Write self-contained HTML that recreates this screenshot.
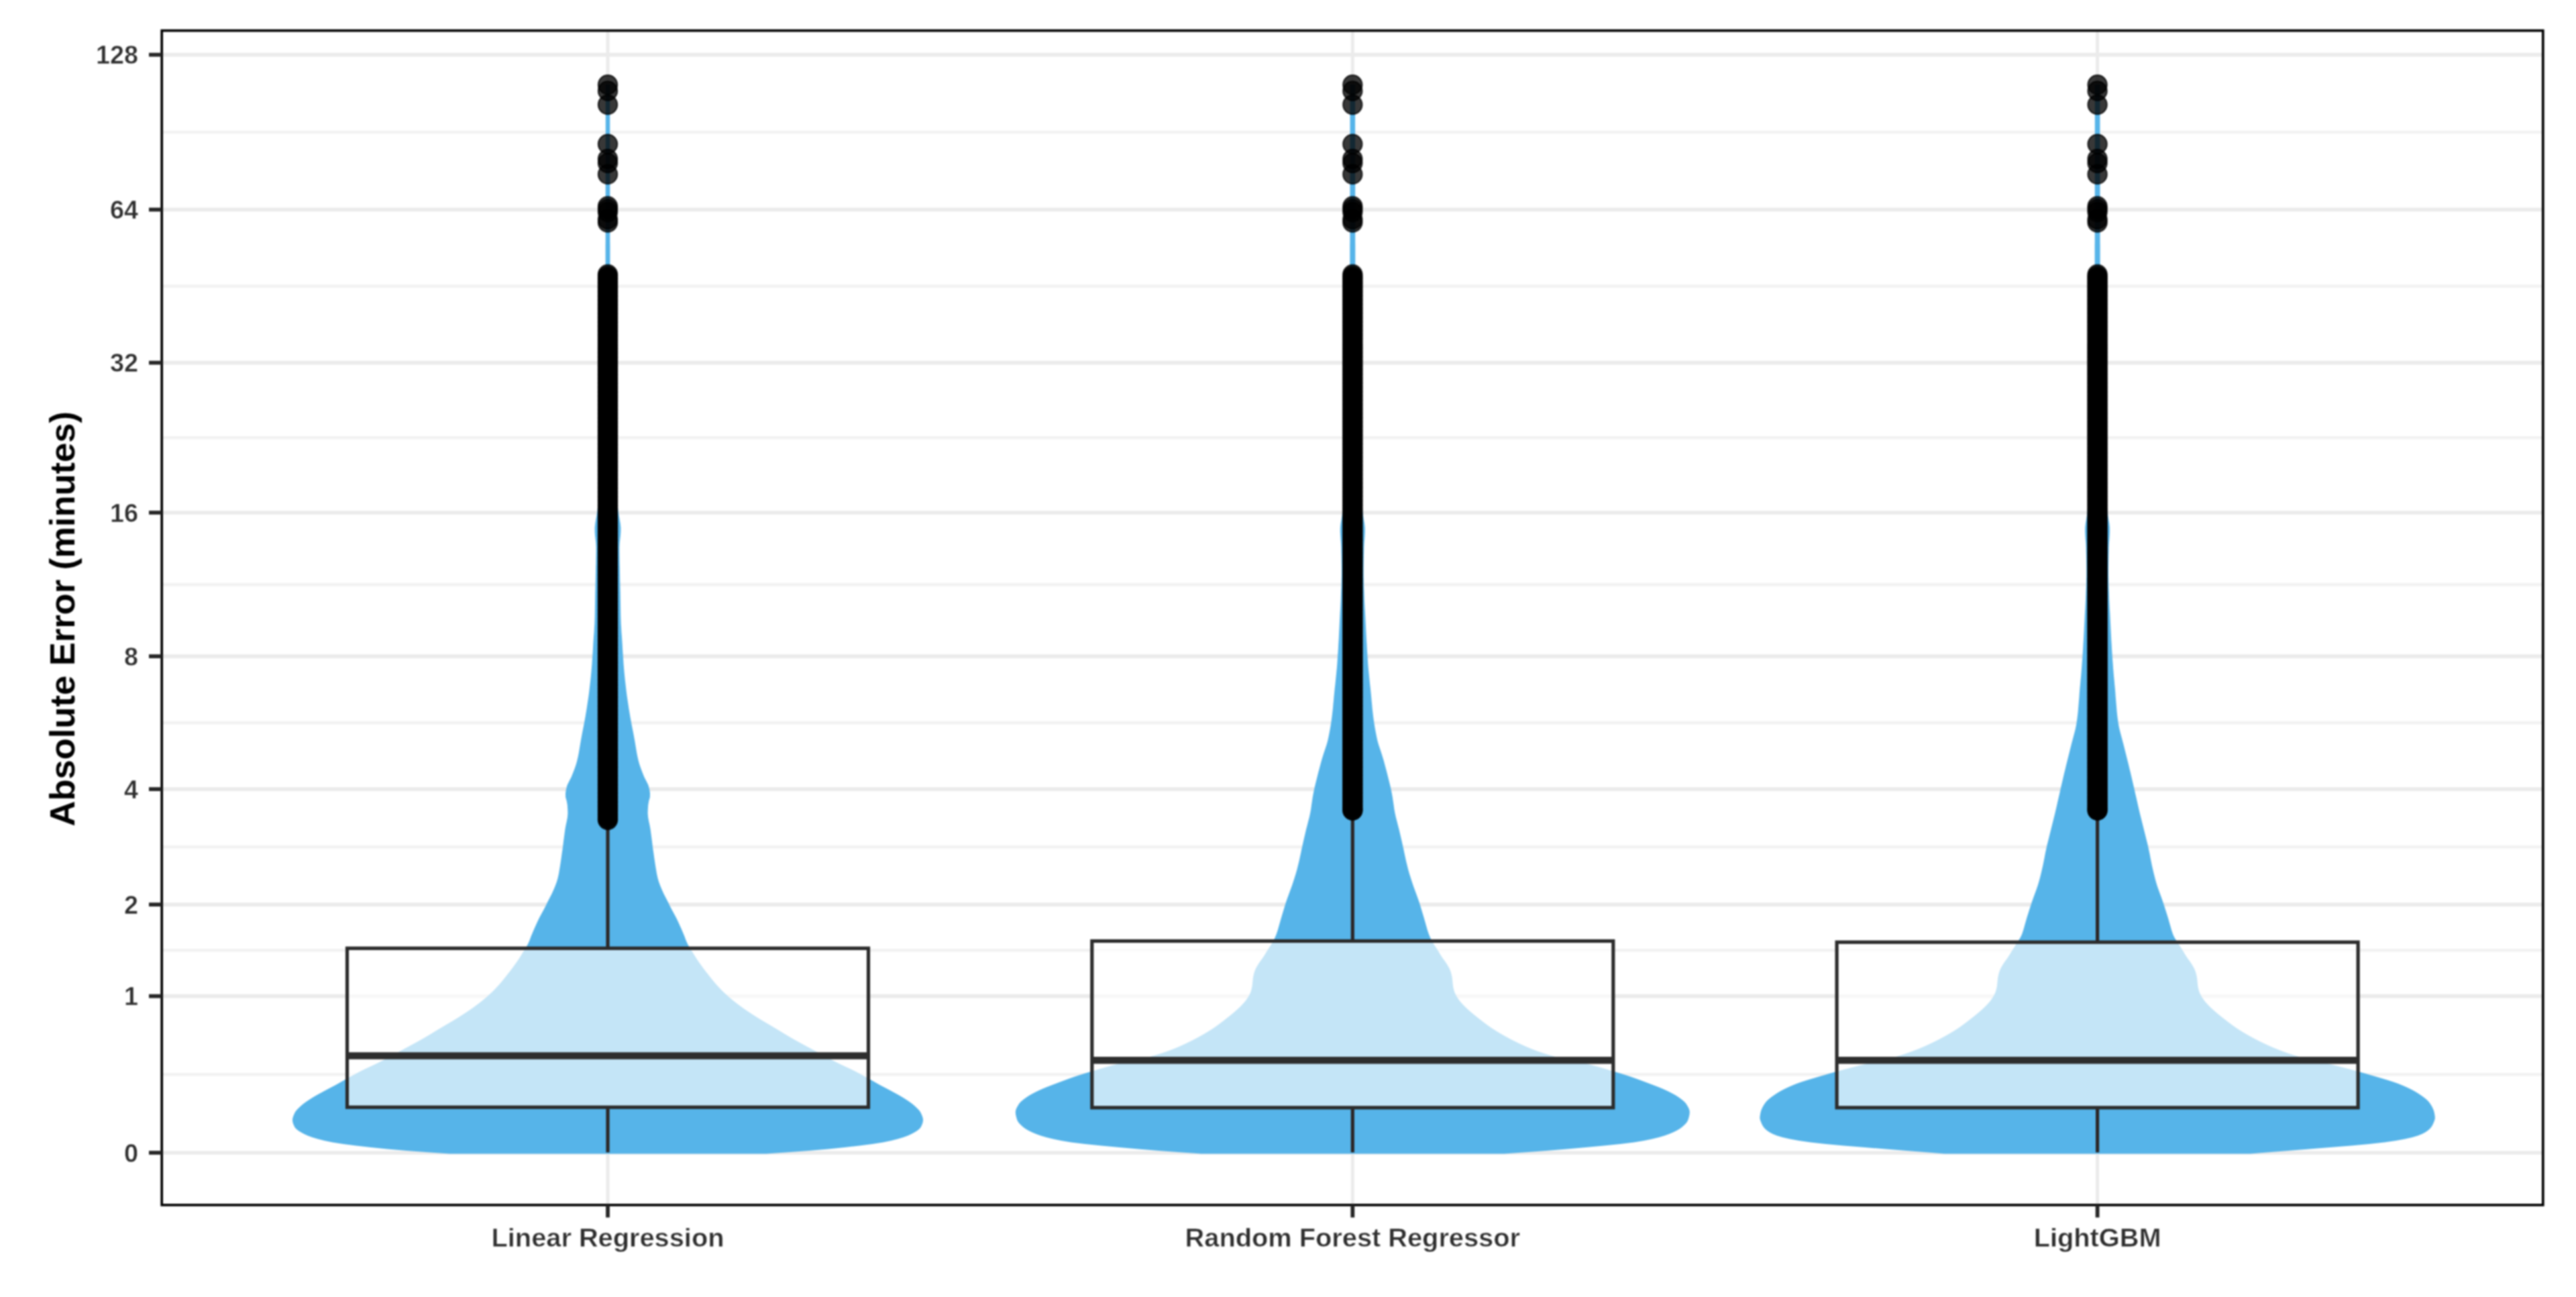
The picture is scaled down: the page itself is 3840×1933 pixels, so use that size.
<!DOCTYPE html>
<html lang="en"><head><meta charset="utf-8"><title>Absolute Error by model</title>
<style>html,body{margin:0;padding:0;background:#fff}body{width:3840px;height:1933px;overflow:hidden}svg{display:block;filter:blur(1.3px)}text{font-family:"Liberation Sans",sans-serif;font-weight:bold}.yt{font-size:39px;fill:#2e2e2e;text-anchor:end;stroke:#fff;stroke-width:.5px}.xt{font-size:39px;fill:#2e2e2e;text-anchor:middle;stroke:#fff;stroke-width:.5px}.ttl{font-size:52.5px;fill:#000;text-anchor:middle}</style></head><body>
<svg width="3840" height="1933" viewBox="0 0 3840 1933">
<rect x="0" y="0" width="3840" height="1933" fill="#fff"/>
<g stroke="#ebebeb" fill="none">
<line x1="241.2" x2="3790.8" y1="1601.3" y2="1601.3" stroke-width="4.6" stroke="#f2f2f2"/>
<line x1="241.2" x2="3790.8" y1="1416.3" y2="1416.3" stroke-width="4.6" stroke="#f2f2f2"/>
<line x1="241.2" x2="3790.8" y1="1262.1" y2="1262.1" stroke-width="4.6" stroke="#f2f2f2"/>
<line x1="241.2" x2="3790.8" y1="1077.1" y2="1077.1" stroke-width="4.6" stroke="#f2f2f2"/>
<line x1="241.2" x2="3790.8" y1="871.1" y2="871.1" stroke-width="4.6" stroke="#f2f2f2"/>
<line x1="241.2" x2="3790.8" y1="652.3" y2="652.3" stroke-width="4.6" stroke="#f2f2f2"/>
<line x1="241.2" x2="3790.8" y1="426.5" y2="426.5" stroke-width="4.6" stroke="#f2f2f2"/>
<line x1="241.2" x2="3790.8" y1="197.0" y2="197.0" stroke-width="4.6" stroke="#f2f2f2"/>
<line x1="241.2" x2="3790.8" y1="1718.0" y2="1718.0" stroke-width="5.6"/>
<line x1="241.2" x2="3790.8" y1="1484.6" y2="1484.6" stroke-width="5.6"/>
<line x1="241.2" x2="3790.8" y1="1348.1" y2="1348.1" stroke-width="5.6"/>
<line x1="241.2" x2="3790.8" y1="1176.1" y2="1176.1" stroke-width="5.6"/>
<line x1="241.2" x2="3790.8" y1="978.1" y2="978.1" stroke-width="5.6"/>
<line x1="241.2" x2="3790.8" y1="764.0" y2="764.0" stroke-width="5.6"/>
<line x1="241.2" x2="3790.8" y1="540.6" y2="540.6" stroke-width="5.6"/>
<line x1="241.2" x2="3790.8" y1="312.4" y2="312.4" stroke-width="5.6"/>
<line x1="241.2" x2="3790.8" y1="81.6" y2="81.6" stroke-width="5.6"/>
<line x1="906.0" x2="906.0" y1="45.6" y2="1795.9" stroke-width="5"/>
<line x1="2016.3" x2="2016.3" y1="45.6" y2="1795.9" stroke-width="5"/>
<line x1="3126.6" x2="3126.6" y1="45.6" y2="1795.9" stroke-width="5"/>
</g>
<g fill="#56b4e9" stroke="none">
<path d="M902.8 126.0 L902.8 132.0 L902.8 138.0 L902.8 144.0 L902.8 150.0 L902.8 156.0 L902.8 162.0 L902.8 168.0 L902.8 174.0 L902.8 180.0 L902.8 186.0 L902.8 192.0 L902.8 198.0 L902.8 204.0 L902.8 210.0 L902.8 216.0 L902.8 222.0 L902.8 228.0 L902.8 234.0 L902.8 240.0 L902.8 246.0 L902.8 252.0 L902.8 258.0 L902.7 264.0 L902.7 270.0 L902.7 276.0 L902.7 282.0 L902.7 288.0 L902.7 294.0 L902.7 300.0 L902.7 306.0 L902.7 312.0 L902.7 318.0 L902.7 324.0 L902.7 330.0 L902.7 336.0 L902.7 342.0 L902.7 348.0 L902.7 354.0 L902.7 360.0 L902.6 366.0 L902.6 372.0 L902.6 378.0 L902.6 384.0 L902.6 390.0 L902.6 396.0 L902.6 402.0 L902.6 408.0 L902.6 414.0 L902.6 420.0 L902.5 426.0 L902.5 432.0 L902.5 438.0 L902.5 444.0 L902.4 450.0 L902.4 456.0 L902.4 462.0 L902.3 468.0 L902.3 474.0 L902.3 480.0 L902.2 486.0 L902.2 492.0 L902.1 498.0 L902.1 504.0 L902.0 510.0 L902.0 516.0 L901.9 522.0 L901.9 528.0 L901.8 534.0 L901.8 540.0 L901.7 546.0 L901.6 552.0 L901.5 558.0 L901.5 564.0 L901.4 570.0 L901.3 576.0 L901.2 582.0 L901.2 588.0 L901.1 594.0 L901.0 600.0 L900.9 606.0 L900.8 612.0 L900.6 618.0 L900.5 624.0 L900.3 630.0 L900.1 636.0 L899.9 642.0 L899.7 648.0 L899.4 654.0 L899.1 660.0 L898.9 666.0 L898.6 672.0 L898.3 678.0 L897.9 684.0 L897.6 690.0 L897.2 696.0 L896.9 702.0 L896.4 708.0 L895.9 714.0 L895.3 720.0 L894.6 726.0 L893.9 732.0 L893.2 738.0 L892.5 744.0 L891.8 750.0 L891.0 756.0 L890.3 762.0 L889.4 768.0 L888.3 774.0 L887.3 780.0 L886.6 786.0 L886.6 792.0 L887.0 798.0 L887.7 804.0 L888.3 810.0 L888.6 816.0 L888.6 822.0 L888.5 828.0 L888.4 834.0 L888.3 840.0 L888.1 846.0 L888.0 852.0 L887.9 858.0 L887.8 864.0 L887.6 870.0 L887.5 876.0 L887.3 882.0 L887.2 888.0 L887.1 894.0 L887.0 900.0 L886.9 906.0 L886.8 912.0 L886.7 918.0 L886.5 924.0 L886.3 930.0 L885.9 936.0 L885.6 942.0 L885.1 948.0 L884.7 954.0 L884.3 960.0 L884.0 966.0 L883.6 972.0 L883.2 978.0 L882.8 984.0 L882.4 990.0 L881.9 996.0 L881.4 1002.0 L880.8 1008.0 L880.2 1014.0 L879.5 1020.0 L878.8 1026.0 L878.1 1032.0 L877.3 1038.0 L876.4 1044.0 L875.5 1050.0 L874.6 1056.0 L873.6 1062.0 L872.6 1068.0 L871.5 1074.0 L870.4 1080.0 L869.2 1086.0 L868.0 1092.0 L866.9 1098.0 L865.8 1104.0 L864.8 1110.0 L863.8 1116.0 L862.8 1122.0 L861.6 1128.0 L860.2 1134.0 L858.5 1140.0 L856.4 1146.0 L854.1 1152.0 L851.7 1158.0 L848.6 1164.0 L845.6 1170.0 L844.0 1176.0 L843.0 1182.0 L843.1 1188.0 L844.8 1194.0 L845.8 1200.0 L846.2 1206.0 L846.4 1212.0 L845.9 1218.0 L844.8 1224.0 L843.5 1230.0 L842.4 1236.0 L841.6 1242.0 L840.8 1248.0 L840.0 1254.0 L839.3 1260.0 L838.5 1266.0 L837.6 1272.0 L836.8 1278.0 L835.9 1284.0 L835.0 1290.0 L834.0 1296.0 L833.0 1302.0 L831.7 1308.0 L830.0 1314.0 L827.8 1320.0 L825.3 1326.0 L822.6 1332.0 L819.5 1338.0 L816.4 1344.0 L813.5 1350.0 L810.4 1356.0 L807.1 1362.0 L803.9 1368.0 L801.0 1374.0 L798.3 1380.0 L795.6 1386.0 L793.1 1392.0 L791.8 1395.0 L790.9 1397.5 L790.0 1400.0 L789.0 1402.5 L787.9 1405.0 L786.7 1407.5 L785.3 1410.0 L783.9 1412.5 L782.3 1415.0 L780.7 1417.5 L779.1 1420.0 L777.6 1422.5 L776.0 1425.0 L774.4 1427.5 L772.8 1430.0 L771.1 1432.5 L769.4 1435.0 L767.6 1437.5 L765.8 1440.0 L764.0 1442.5 L762.1 1445.0 L760.2 1447.5 L758.2 1450.0 L756.2 1452.5 L754.3 1455.0 L752.3 1457.5 L750.3 1460.0 L748.3 1462.5 L746.2 1465.0 L744.0 1467.5 L741.7 1470.0 L739.4 1472.5 L737.0 1475.0 L734.5 1477.5 L731.9 1480.0 L729.2 1482.5 L726.4 1485.0 L723.6 1487.5 L720.6 1490.0 L717.5 1492.5 L714.3 1495.0 L711.0 1497.5 L707.6 1500.0 L704.2 1502.5 L700.6 1505.0 L696.9 1507.5 L693.1 1510.0 L689.3 1512.5 L685.4 1515.0 L681.4 1517.5 L677.3 1520.0 L673.1 1522.5 L668.9 1525.0 L664.6 1527.5 L660.4 1530.0 L656.2 1532.5 L652.0 1535.0 L647.9 1537.5 L643.8 1540.0 L639.7 1542.5 L635.5 1545.0 L631.2 1547.5 L626.8 1550.0 L622.3 1552.5 L617.7 1555.0 L613.1 1557.5 L608.5 1560.0 L603.8 1562.5 L599.2 1565.0 L594.6 1567.5 L590.0 1570.0 L585.4 1572.5 L580.8 1575.0 L576.1 1577.5 L571.4 1580.0 L566.5 1582.5 L561.6 1585.0 L556.4 1587.5 L551.0 1590.0 L545.6 1592.5 L540.4 1595.0 L535.5 1597.5 L530.8 1600.0 L526.2 1602.5 L521.6 1605.0 L517.1 1607.5 L512.7 1610.0 L508.4 1612.5 L504.0 1615.0 L499.5 1617.5 L494.7 1620.0 L489.9 1622.5 L485.2 1625.0 L480.6 1627.5 L476.0 1630.0 L471.5 1632.5 L467.2 1635.0 L463.2 1637.5 L459.4 1640.0 L455.7 1642.5 L452.3 1645.0 L449.3 1647.5 L446.6 1650.0 L444.0 1652.5 L441.7 1655.0 L439.9 1657.5 L438.7 1660.0 L437.6 1662.5 L436.7 1665.0 L436.1 1667.5 L436.0 1670.0 L436.4 1672.5 L437.1 1675.0 L438.2 1677.5 L439.4 1680.0 L441.5 1682.5 L444.6 1685.0 L448.6 1687.5 L453.2 1690.0 L458.6 1692.5 L465.4 1695.0 L473.8 1697.5 L483.6 1700.0 L495.6 1702.5 L511.5 1705.0 L530.9 1707.5 L552.9 1710.0 L577.1 1712.5 L606.5 1715.0 L640.4 1717.5 L670.0 1719.5 L1142.0 1719.5 L1171.6 1717.5 L1205.5 1715.0 L1234.9 1712.5 L1259.1 1710.0 L1281.1 1707.5 L1300.5 1705.0 L1316.4 1702.5 L1328.4 1700.0 L1338.2 1697.5 L1346.6 1695.0 L1353.4 1692.5 L1358.8 1690.0 L1363.4 1687.5 L1367.4 1685.0 L1370.5 1682.5 L1372.6 1680.0 L1373.8 1677.5 L1374.9 1675.0 L1375.6 1672.5 L1376.0 1670.0 L1375.9 1667.5 L1375.3 1665.0 L1374.4 1662.5 L1373.3 1660.0 L1372.1 1657.5 L1370.3 1655.0 L1368.0 1652.5 L1365.4 1650.0 L1362.7 1647.5 L1359.7 1645.0 L1356.3 1642.5 L1352.6 1640.0 L1348.8 1637.5 L1344.8 1635.0 L1340.5 1632.5 L1336.0 1630.0 L1331.4 1627.5 L1326.8 1625.0 L1322.1 1622.5 L1317.3 1620.0 L1312.5 1617.5 L1308.0 1615.0 L1303.6 1612.5 L1299.3 1610.0 L1294.9 1607.5 L1290.4 1605.0 L1285.8 1602.5 L1281.2 1600.0 L1276.5 1597.5 L1271.6 1595.0 L1266.4 1592.5 L1261.0 1590.0 L1255.6 1587.5 L1250.4 1585.0 L1245.5 1582.5 L1240.6 1580.0 L1235.9 1577.5 L1231.2 1575.0 L1226.6 1572.5 L1222.0 1570.0 L1217.4 1567.5 L1212.8 1565.0 L1208.2 1562.5 L1203.5 1560.0 L1198.9 1557.5 L1194.3 1555.0 L1189.7 1552.5 L1185.2 1550.0 L1180.8 1547.5 L1176.5 1545.0 L1172.3 1542.5 L1168.2 1540.0 L1164.1 1537.5 L1160.0 1535.0 L1155.8 1532.5 L1151.6 1530.0 L1147.4 1527.5 L1143.1 1525.0 L1138.9 1522.5 L1134.7 1520.0 L1130.6 1517.5 L1126.6 1515.0 L1122.7 1512.5 L1118.9 1510.0 L1115.1 1507.5 L1111.4 1505.0 L1107.8 1502.5 L1104.4 1500.0 L1101.0 1497.5 L1097.7 1495.0 L1094.5 1492.5 L1091.4 1490.0 L1088.4 1487.5 L1085.6 1485.0 L1082.8 1482.5 L1080.1 1480.0 L1077.5 1477.5 L1075.0 1475.0 L1072.6 1472.5 L1070.3 1470.0 L1068.0 1467.5 L1065.8 1465.0 L1063.7 1462.5 L1061.7 1460.0 L1059.7 1457.5 L1057.7 1455.0 L1055.8 1452.5 L1053.8 1450.0 L1051.8 1447.5 L1049.9 1445.0 L1048.0 1442.5 L1046.2 1440.0 L1044.4 1437.5 L1042.6 1435.0 L1040.9 1432.5 L1039.2 1430.0 L1037.6 1427.5 L1036.0 1425.0 L1034.4 1422.5 L1032.9 1420.0 L1031.3 1417.5 L1029.7 1415.0 L1028.1 1412.5 L1026.7 1410.0 L1025.3 1407.5 L1024.1 1405.0 L1023.0 1402.5 L1022.0 1400.0 L1021.1 1397.5 L1020.2 1395.0 L1018.9 1392.0 L1016.4 1386.0 L1013.7 1380.0 L1011.0 1374.0 L1008.1 1368.0 L1004.9 1362.0 L1001.6 1356.0 L998.5 1350.0 L995.6 1344.0 L992.5 1338.0 L989.4 1332.0 L986.7 1326.0 L984.2 1320.0 L982.0 1314.0 L980.3 1308.0 L979.0 1302.0 L978.0 1296.0 L977.0 1290.0 L976.1 1284.0 L975.2 1278.0 L974.4 1272.0 L973.5 1266.0 L972.7 1260.0 L972.0 1254.0 L971.2 1248.0 L970.4 1242.0 L969.6 1236.0 L968.5 1230.0 L967.2 1224.0 L966.1 1218.0 L965.6 1212.0 L965.8 1206.0 L966.2 1200.0 L967.2 1194.0 L968.9 1188.0 L969.0 1182.0 L968.0 1176.0 L966.4 1170.0 L963.4 1164.0 L960.3 1158.0 L957.9 1152.0 L955.6 1146.0 L953.5 1140.0 L951.8 1134.0 L950.4 1128.0 L949.2 1122.0 L948.2 1116.0 L947.2 1110.0 L946.2 1104.0 L945.1 1098.0 L944.0 1092.0 L942.8 1086.0 L941.6 1080.0 L940.5 1074.0 L939.4 1068.0 L938.4 1062.0 L937.4 1056.0 L936.5 1050.0 L935.6 1044.0 L934.7 1038.0 L933.9 1032.0 L933.2 1026.0 L932.5 1020.0 L931.8 1014.0 L931.2 1008.0 L930.6 1002.0 L930.1 996.0 L929.6 990.0 L929.2 984.0 L928.8 978.0 L928.4 972.0 L928.0 966.0 L927.7 960.0 L927.3 954.0 L926.9 948.0 L926.4 942.0 L926.1 936.0 L925.7 930.0 L925.5 924.0 L925.3 918.0 L925.2 912.0 L925.1 906.0 L925.0 900.0 L924.9 894.0 L924.8 888.0 L924.7 882.0 L924.5 876.0 L924.4 870.0 L924.2 864.0 L924.1 858.0 L924.0 852.0 L923.9 846.0 L923.7 840.0 L923.6 834.0 L923.5 828.0 L923.4 822.0 L923.4 816.0 L923.7 810.0 L924.3 804.0 L925.0 798.0 L925.4 792.0 L925.4 786.0 L924.7 780.0 L923.7 774.0 L922.6 768.0 L921.7 762.0 L921.0 756.0 L920.2 750.0 L919.5 744.0 L918.8 738.0 L918.1 732.0 L917.4 726.0 L916.7 720.0 L916.1 714.0 L915.6 708.0 L915.1 702.0 L914.8 696.0 L914.4 690.0 L914.1 684.0 L913.7 678.0 L913.4 672.0 L913.1 666.0 L912.9 660.0 L912.6 654.0 L912.3 648.0 L912.1 642.0 L911.9 636.0 L911.7 630.0 L911.5 624.0 L911.4 618.0 L911.2 612.0 L911.1 606.0 L911.0 600.0 L910.9 594.0 L910.8 588.0 L910.8 582.0 L910.7 576.0 L910.6 570.0 L910.5 564.0 L910.5 558.0 L910.4 552.0 L910.3 546.0 L910.2 540.0 L910.2 534.0 L910.1 528.0 L910.1 522.0 L910.0 516.0 L910.0 510.0 L909.9 504.0 L909.9 498.0 L909.8 492.0 L909.8 486.0 L909.7 480.0 L909.7 474.0 L909.7 468.0 L909.6 462.0 L909.6 456.0 L909.6 450.0 L909.5 444.0 L909.5 438.0 L909.5 432.0 L909.5 426.0 L909.4 420.0 L909.4 414.0 L909.4 408.0 L909.4 402.0 L909.4 396.0 L909.4 390.0 L909.4 384.0 L909.4 378.0 L909.4 372.0 L909.4 366.0 L909.3 360.0 L909.3 354.0 L909.3 348.0 L909.3 342.0 L909.3 336.0 L909.3 330.0 L909.3 324.0 L909.3 318.0 L909.3 312.0 L909.3 306.0 L909.3 300.0 L909.3 294.0 L909.3 288.0 L909.3 282.0 L909.3 276.0 L909.3 270.0 L909.3 264.0 L909.2 258.0 L909.2 252.0 L909.2 246.0 L909.2 240.0 L909.2 234.0 L909.2 228.0 L909.2 222.0 L909.2 216.0 L909.2 210.0 L909.2 204.0 L909.2 198.0 L909.2 192.0 L909.2 186.0 L909.2 180.0 L909.2 174.0 L909.2 168.0 L909.2 162.0 L909.2 156.0 L909.2 150.0 L909.2 144.0 L909.2 138.0 L909.2 132.0 L909.2 126.0 Z"/>
<path d="M2012.5 126.0 L2012.5 132.0 L2012.5 138.0 L2012.5 144.0 L2012.5 150.0 L2012.5 156.0 L2012.5 162.0 L2012.5 168.0 L2012.5 174.0 L2012.5 180.0 L2012.5 186.0 L2012.5 192.0 L2012.5 198.0 L2012.5 204.0 L2012.5 210.0 L2012.5 216.0 L2012.5 222.0 L2012.5 228.0 L2012.5 234.0 L2012.5 240.0 L2012.5 246.0 L2012.5 252.0 L2012.5 258.0 L2012.4 264.0 L2012.4 270.0 L2012.4 276.0 L2012.4 282.0 L2012.4 288.0 L2012.4 294.0 L2012.4 300.0 L2012.4 306.0 L2012.4 312.0 L2012.4 318.0 L2012.4 324.0 L2012.4 330.0 L2012.4 336.0 L2012.4 342.0 L2012.4 348.0 L2012.4 354.0 L2012.4 360.0 L2012.3 366.0 L2012.3 372.0 L2012.3 378.0 L2012.3 384.0 L2012.3 390.0 L2012.3 396.0 L2012.3 402.0 L2012.3 408.0 L2012.3 414.0 L2012.3 420.0 L2012.2 426.0 L2012.2 432.0 L2012.2 438.0 L2012.2 444.0 L2012.2 450.0 L2012.1 456.0 L2012.1 462.0 L2012.1 468.0 L2012.0 474.0 L2012.0 480.0 L2011.9 486.0 L2011.9 492.0 L2011.9 498.0 L2011.8 504.0 L2011.8 510.0 L2011.7 516.0 L2011.7 522.0 L2011.6 528.0 L2011.6 534.0 L2011.5 540.0 L2011.4 546.0 L2011.4 552.0 L2011.3 558.0 L2011.2 564.0 L2011.2 570.0 L2011.1 576.0 L2011.0 582.0 L2011.0 588.0 L2010.9 594.0 L2010.8 600.0 L2010.7 606.0 L2010.6 612.0 L2010.5 618.0 L2010.4 624.0 L2010.2 630.0 L2010.0 636.0 L2009.8 642.0 L2009.6 648.0 L2009.4 654.0 L2009.2 660.0 L2009.0 666.0 L2008.7 672.0 L2008.4 678.0 L2008.1 684.0 L2007.8 690.0 L2007.5 696.0 L2007.2 702.0 L2006.7 708.0 L2006.2 714.0 L2005.5 720.0 L2004.8 726.0 L2004.1 732.0 L2003.5 738.0 L2002.9 744.0 L2002.4 750.0 L2001.8 756.0 L2001.2 762.0 L2000.6 768.0 L1999.7 774.0 L1998.6 780.0 L1997.9 786.0 L1997.8 792.0 L1998.1 798.0 L1998.5 804.0 L1999.0 810.0 L1999.3 816.0 L1999.4 822.0 L1999.6 828.0 L1999.7 834.0 L1999.8 840.0 L1999.9 846.0 L1999.9 852.0 L1999.9 858.0 L1999.7 864.0 L1999.6 870.0 L1999.4 876.0 L1999.1 882.0 L1998.9 888.0 L1998.7 894.0 L1998.4 900.0 L1998.1 906.0 L1997.7 912.0 L1997.4 918.0 L1997.1 924.0 L1996.8 930.0 L1996.5 936.0 L1996.2 942.0 L1995.9 948.0 L1995.6 954.0 L1995.2 960.0 L1994.9 966.0 L1994.5 972.0 L1994.1 978.0 L1993.7 984.0 L1993.3 990.0 L1992.8 996.0 L1992.2 1002.0 L1991.6 1008.0 L1991.0 1014.0 L1990.4 1020.0 L1989.7 1026.0 L1989.1 1032.0 L1988.5 1038.0 L1988.0 1044.0 L1987.4 1050.0 L1986.9 1056.0 L1986.2 1062.0 L1985.5 1068.0 L1984.7 1074.0 L1983.8 1080.0 L1982.8 1086.0 L1981.7 1092.0 L1980.5 1098.0 L1979.2 1104.0 L1977.5 1110.0 L1975.5 1116.0 L1973.5 1122.0 L1971.6 1128.0 L1969.8 1134.0 L1968.2 1140.0 L1966.6 1146.0 L1965.0 1152.0 L1963.5 1158.0 L1962.0 1164.0 L1960.5 1170.0 L1959.1 1176.0 L1957.9 1182.0 L1956.8 1188.0 L1955.9 1194.0 L1955.0 1200.0 L1954.2 1206.0 L1953.1 1212.0 L1951.8 1218.0 L1950.2 1224.0 L1948.7 1230.0 L1947.1 1236.0 L1945.7 1242.0 L1944.3 1248.0 L1942.9 1254.0 L1941.6 1260.0 L1940.2 1266.0 L1939.0 1272.0 L1937.7 1278.0 L1936.4 1284.0 L1934.9 1290.0 L1933.4 1296.0 L1931.7 1302.0 L1929.8 1308.0 L1927.9 1314.0 L1925.9 1320.0 L1923.7 1326.0 L1921.5 1332.0 L1919.3 1338.0 L1917.2 1344.0 L1915.3 1350.0 L1913.5 1356.0 L1911.7 1362.0 L1909.9 1368.0 L1908.2 1374.0 L1906.5 1380.0 L1904.8 1386.0 L1902.8 1392.0 L1901.6 1395.0 L1900.5 1397.5 L1899.2 1400.0 L1897.9 1402.5 L1896.5 1405.0 L1895.0 1407.5 L1893.4 1410.0 L1891.8 1412.5 L1890.2 1415.0 L1888.6 1417.5 L1887.1 1420.0 L1885.6 1422.5 L1884.0 1425.0 L1882.4 1427.5 L1880.6 1430.0 L1878.7 1432.5 L1877.0 1435.0 L1875.4 1437.5 L1873.9 1440.0 L1872.5 1442.5 L1871.3 1445.0 L1870.3 1447.5 L1869.5 1450.0 L1868.9 1452.5 L1868.3 1455.0 L1867.9 1457.5 L1867.6 1460.0 L1867.3 1462.5 L1867.1 1465.0 L1866.8 1467.5 L1866.5 1470.0 L1866.0 1472.5 L1865.4 1475.0 L1864.7 1477.5 L1863.8 1480.0 L1862.6 1482.5 L1861.2 1485.0 L1859.6 1487.5 L1857.9 1490.0 L1856.0 1492.5 L1853.8 1495.0 L1851.5 1497.5 L1849.1 1500.0 L1846.5 1502.5 L1843.8 1505.0 L1840.9 1507.5 L1838.0 1510.0 L1835.0 1512.5 L1831.9 1515.0 L1828.7 1517.5 L1825.5 1520.0 L1822.3 1522.5 L1819.0 1525.0 L1815.7 1527.5 L1812.2 1530.0 L1808.6 1532.5 L1804.7 1535.0 L1800.7 1537.5 L1796.5 1540.0 L1792.2 1542.5 L1787.7 1545.0 L1783.1 1547.5 L1778.3 1550.0 L1773.3 1552.5 L1768.2 1555.0 L1762.8 1557.5 L1757.3 1560.0 L1751.3 1562.5 L1744.9 1565.0 L1738.1 1567.5 L1730.7 1570.0 L1722.7 1572.5 L1713.8 1575.0 L1703.0 1577.5 L1691.1 1580.0 L1679.2 1582.5 L1668.5 1585.0 L1659.0 1587.5 L1650.0 1590.0 L1641.4 1592.5 L1633.0 1595.0 L1624.6 1597.5 L1616.3 1600.0 L1608.3 1602.5 L1600.9 1605.0 L1593.8 1607.5 L1587.0 1610.0 L1580.3 1612.5 L1573.7 1615.0 L1567.1 1617.5 L1560.6 1620.0 L1554.5 1622.5 L1549.0 1625.0 L1543.8 1627.5 L1539.0 1630.0 L1534.5 1632.5 L1530.7 1635.0 L1527.2 1637.5 L1524.0 1640.0 L1521.2 1642.5 L1519.1 1645.0 L1517.6 1647.5 L1516.1 1650.0 L1514.9 1652.5 L1514.1 1655.0 L1513.8 1657.5 L1514.0 1660.0 L1514.4 1662.5 L1515.0 1665.0 L1515.7 1667.5 L1516.6 1670.0 L1518.0 1672.5 L1520.1 1675.0 L1522.7 1677.5 L1525.5 1680.0 L1529.0 1682.5 L1533.3 1685.0 L1538.4 1687.5 L1544.3 1690.0 L1551.2 1692.5 L1559.6 1695.0 L1569.8 1697.5 L1581.9 1700.0 L1596.8 1702.5 L1617.3 1705.0 L1641.9 1707.5 L1668.8 1710.0 L1696.6 1712.5 L1727.5 1715.0 L1761.4 1717.5 L1790.3 1719.5 L2242.3 1719.5 L2271.2 1717.5 L2305.1 1715.0 L2336.0 1712.5 L2363.8 1710.0 L2390.7 1707.5 L2415.3 1705.0 L2435.8 1702.5 L2450.7 1700.0 L2462.8 1697.5 L2473.0 1695.0 L2481.4 1692.5 L2488.3 1690.0 L2494.2 1687.5 L2499.3 1685.0 L2503.6 1682.5 L2507.1 1680.0 L2509.9 1677.5 L2512.5 1675.0 L2514.6 1672.5 L2516.0 1670.0 L2516.9 1667.5 L2517.6 1665.0 L2518.2 1662.5 L2518.6 1660.0 L2518.8 1657.5 L2518.5 1655.0 L2517.7 1652.5 L2516.5 1650.0 L2515.0 1647.5 L2513.5 1645.0 L2511.4 1642.5 L2508.6 1640.0 L2505.4 1637.5 L2501.9 1635.0 L2498.1 1632.5 L2493.6 1630.0 L2488.8 1627.5 L2483.6 1625.0 L2478.1 1622.5 L2472.0 1620.0 L2465.5 1617.5 L2458.9 1615.0 L2452.3 1612.5 L2445.6 1610.0 L2438.8 1607.5 L2431.7 1605.0 L2424.3 1602.5 L2416.3 1600.0 L2408.0 1597.5 L2399.6 1595.0 L2391.2 1592.5 L2382.6 1590.0 L2373.6 1587.5 L2364.1 1585.0 L2353.4 1582.5 L2341.5 1580.0 L2329.6 1577.5 L2318.8 1575.0 L2309.9 1572.5 L2301.9 1570.0 L2294.5 1567.5 L2287.7 1565.0 L2281.3 1562.5 L2275.3 1560.0 L2269.8 1557.5 L2264.4 1555.0 L2259.3 1552.5 L2254.3 1550.0 L2249.5 1547.5 L2244.9 1545.0 L2240.4 1542.5 L2236.1 1540.0 L2231.9 1537.5 L2227.9 1535.0 L2224.0 1532.5 L2220.4 1530.0 L2216.9 1527.5 L2213.6 1525.0 L2210.3 1522.5 L2207.1 1520.0 L2203.9 1517.5 L2200.7 1515.0 L2197.6 1512.5 L2194.6 1510.0 L2191.7 1507.5 L2188.8 1505.0 L2186.1 1502.5 L2183.5 1500.0 L2181.1 1497.5 L2178.8 1495.0 L2176.6 1492.5 L2174.7 1490.0 L2173.0 1487.5 L2171.4 1485.0 L2170.0 1482.5 L2168.8 1480.0 L2167.9 1477.5 L2167.2 1475.0 L2166.6 1472.5 L2166.1 1470.0 L2165.8 1467.5 L2165.5 1465.0 L2165.3 1462.5 L2165.0 1460.0 L2164.7 1457.5 L2164.3 1455.0 L2163.7 1452.5 L2163.1 1450.0 L2162.3 1447.5 L2161.3 1445.0 L2160.1 1442.5 L2158.7 1440.0 L2157.2 1437.5 L2155.6 1435.0 L2153.9 1432.5 L2152.0 1430.0 L2150.2 1427.5 L2148.6 1425.0 L2147.0 1422.5 L2145.5 1420.0 L2144.0 1417.5 L2142.4 1415.0 L2140.8 1412.5 L2139.2 1410.0 L2137.6 1407.5 L2136.1 1405.0 L2134.7 1402.5 L2133.4 1400.0 L2132.1 1397.5 L2131.0 1395.0 L2129.8 1392.0 L2127.8 1386.0 L2126.1 1380.0 L2124.4 1374.0 L2122.7 1368.0 L2120.9 1362.0 L2119.1 1356.0 L2117.3 1350.0 L2115.4 1344.0 L2113.3 1338.0 L2111.1 1332.0 L2108.9 1326.0 L2106.7 1320.0 L2104.7 1314.0 L2102.8 1308.0 L2100.9 1302.0 L2099.2 1296.0 L2097.7 1290.0 L2096.2 1284.0 L2094.9 1278.0 L2093.6 1272.0 L2092.4 1266.0 L2091.0 1260.0 L2089.7 1254.0 L2088.3 1248.0 L2086.9 1242.0 L2085.5 1236.0 L2083.9 1230.0 L2082.4 1224.0 L2080.8 1218.0 L2079.5 1212.0 L2078.4 1206.0 L2077.6 1200.0 L2076.7 1194.0 L2075.8 1188.0 L2074.7 1182.0 L2073.5 1176.0 L2072.1 1170.0 L2070.6 1164.0 L2069.1 1158.0 L2067.6 1152.0 L2066.0 1146.0 L2064.4 1140.0 L2062.8 1134.0 L2061.0 1128.0 L2059.1 1122.0 L2057.1 1116.0 L2055.1 1110.0 L2053.4 1104.0 L2052.1 1098.0 L2050.9 1092.0 L2049.8 1086.0 L2048.8 1080.0 L2047.9 1074.0 L2047.1 1068.0 L2046.4 1062.0 L2045.7 1056.0 L2045.2 1050.0 L2044.6 1044.0 L2044.1 1038.0 L2043.5 1032.0 L2042.9 1026.0 L2042.2 1020.0 L2041.6 1014.0 L2041.0 1008.0 L2040.4 1002.0 L2039.8 996.0 L2039.3 990.0 L2038.9 984.0 L2038.5 978.0 L2038.1 972.0 L2037.7 966.0 L2037.4 960.0 L2037.0 954.0 L2036.7 948.0 L2036.4 942.0 L2036.1 936.0 L2035.8 930.0 L2035.5 924.0 L2035.2 918.0 L2034.9 912.0 L2034.5 906.0 L2034.2 900.0 L2033.9 894.0 L2033.7 888.0 L2033.5 882.0 L2033.2 876.0 L2033.0 870.0 L2032.9 864.0 L2032.7 858.0 L2032.7 852.0 L2032.7 846.0 L2032.8 840.0 L2032.9 834.0 L2033.0 828.0 L2033.2 822.0 L2033.3 816.0 L2033.6 810.0 L2034.1 804.0 L2034.5 798.0 L2034.8 792.0 L2034.7 786.0 L2034.0 780.0 L2032.9 774.0 L2032.0 768.0 L2031.4 762.0 L2030.8 756.0 L2030.2 750.0 L2029.7 744.0 L2029.1 738.0 L2028.5 732.0 L2027.8 726.0 L2027.1 720.0 L2026.4 714.0 L2025.9 708.0 L2025.4 702.0 L2025.1 696.0 L2024.8 690.0 L2024.5 684.0 L2024.2 678.0 L2023.9 672.0 L2023.6 666.0 L2023.4 660.0 L2023.2 654.0 L2023.0 648.0 L2022.8 642.0 L2022.6 636.0 L2022.4 630.0 L2022.2 624.0 L2022.1 618.0 L2022.0 612.0 L2021.9 606.0 L2021.8 600.0 L2021.7 594.0 L2021.6 588.0 L2021.6 582.0 L2021.5 576.0 L2021.4 570.0 L2021.4 564.0 L2021.3 558.0 L2021.2 552.0 L2021.2 546.0 L2021.1 540.0 L2021.0 534.0 L2021.0 528.0 L2020.9 522.0 L2020.9 516.0 L2020.8 510.0 L2020.8 504.0 L2020.7 498.0 L2020.7 492.0 L2020.7 486.0 L2020.6 480.0 L2020.6 474.0 L2020.5 468.0 L2020.5 462.0 L2020.5 456.0 L2020.4 450.0 L2020.4 444.0 L2020.4 438.0 L2020.4 432.0 L2020.4 426.0 L2020.3 420.0 L2020.3 414.0 L2020.3 408.0 L2020.3 402.0 L2020.3 396.0 L2020.3 390.0 L2020.3 384.0 L2020.3 378.0 L2020.3 372.0 L2020.3 366.0 L2020.2 360.0 L2020.2 354.0 L2020.2 348.0 L2020.2 342.0 L2020.2 336.0 L2020.2 330.0 L2020.2 324.0 L2020.2 318.0 L2020.2 312.0 L2020.2 306.0 L2020.2 300.0 L2020.2 294.0 L2020.2 288.0 L2020.2 282.0 L2020.2 276.0 L2020.2 270.0 L2020.2 264.0 L2020.1 258.0 L2020.1 252.0 L2020.1 246.0 L2020.1 240.0 L2020.1 234.0 L2020.1 228.0 L2020.1 222.0 L2020.1 216.0 L2020.1 210.0 L2020.1 204.0 L2020.1 198.0 L2020.1 192.0 L2020.1 186.0 L2020.1 180.0 L2020.1 174.0 L2020.1 168.0 L2020.1 162.0 L2020.1 156.0 L2020.1 150.0 L2020.1 144.0 L2020.1 138.0 L2020.1 132.0 L2020.1 126.0 Z"/>
<path d="M3122.8 126.0 L3122.8 132.0 L3122.8 138.0 L3122.8 144.0 L3122.8 150.0 L3122.8 156.0 L3122.8 162.0 L3122.8 168.0 L3122.8 174.0 L3122.8 180.0 L3122.8 186.0 L3122.8 192.0 L3122.8 198.0 L3122.8 204.0 L3122.8 210.0 L3122.8 216.0 L3122.8 222.0 L3122.8 228.0 L3122.8 234.0 L3122.8 240.0 L3122.8 246.0 L3122.8 252.0 L3122.8 258.0 L3122.7 264.0 L3122.7 270.0 L3122.7 276.0 L3122.7 282.0 L3122.7 288.0 L3122.7 294.0 L3122.7 300.0 L3122.7 306.0 L3122.7 312.0 L3122.7 318.0 L3122.7 324.0 L3122.7 330.0 L3122.7 336.0 L3122.7 342.0 L3122.7 348.0 L3122.7 354.0 L3122.7 360.0 L3122.6 366.0 L3122.6 372.0 L3122.6 378.0 L3122.6 384.0 L3122.6 390.0 L3122.6 396.0 L3122.6 402.0 L3122.6 408.0 L3122.6 414.0 L3122.6 420.0 L3122.5 426.0 L3122.5 432.0 L3122.5 438.0 L3122.5 444.0 L3122.5 450.0 L3122.4 456.0 L3122.4 462.0 L3122.4 468.0 L3122.3 474.0 L3122.3 480.0 L3122.2 486.0 L3122.2 492.0 L3122.2 498.0 L3122.1 504.0 L3122.1 510.0 L3122.0 516.0 L3122.0 522.0 L3121.9 528.0 L3121.9 534.0 L3121.8 540.0 L3121.7 546.0 L3121.7 552.0 L3121.6 558.0 L3121.5 564.0 L3121.5 570.0 L3121.4 576.0 L3121.3 582.0 L3121.3 588.0 L3121.2 594.0 L3121.1 600.0 L3121.0 606.0 L3120.9 612.0 L3120.8 618.0 L3120.7 624.0 L3120.5 630.0 L3120.3 636.0 L3120.1 642.0 L3119.9 648.0 L3119.7 654.0 L3119.5 660.0 L3119.3 666.0 L3119.0 672.0 L3118.7 678.0 L3118.4 684.0 L3118.1 690.0 L3117.8 696.0 L3117.5 702.0 L3117.0 708.0 L3116.5 714.0 L3115.8 720.0 L3115.1 726.0 L3114.4 732.0 L3113.8 738.0 L3113.2 744.0 L3112.7 750.0 L3112.1 756.0 L3111.5 762.0 L3110.9 768.0 L3110.0 774.0 L3108.9 780.0 L3108.2 786.0 L3108.1 792.0 L3108.4 798.0 L3108.8 804.0 L3109.3 810.0 L3109.6 816.0 L3109.7 822.0 L3109.9 828.0 L3110.0 834.0 L3110.1 840.0 L3110.2 846.0 L3110.2 852.0 L3110.2 858.0 L3110.0 864.0 L3109.9 870.0 L3109.7 876.0 L3109.4 882.0 L3109.2 888.0 L3109.0 894.0 L3108.7 900.0 L3108.4 906.0 L3108.0 912.0 L3107.7 918.0 L3107.4 924.0 L3107.1 930.0 L3106.8 936.0 L3106.5 942.0 L3106.2 948.0 L3105.9 954.0 L3105.5 960.0 L3105.2 966.0 L3104.8 972.0 L3104.4 978.0 L3104.0 984.0 L3103.5 990.0 L3103.1 996.0 L3102.6 1002.0 L3102.1 1008.0 L3101.5 1014.0 L3101.0 1020.0 L3100.4 1026.0 L3099.9 1032.0 L3099.5 1038.0 L3099.0 1044.0 L3098.5 1050.0 L3098.0 1056.0 L3097.5 1062.0 L3096.8 1068.0 L3096.0 1074.0 L3095.1 1080.0 L3093.9 1086.0 L3092.4 1092.0 L3090.8 1098.0 L3089.2 1104.0 L3087.6 1110.0 L3086.1 1116.0 L3084.6 1122.0 L3083.1 1128.0 L3081.6 1134.0 L3080.1 1140.0 L3078.7 1146.0 L3077.2 1152.0 L3075.8 1158.0 L3074.4 1164.0 L3073.0 1170.0 L3071.6 1176.0 L3070.3 1182.0 L3068.9 1188.0 L3067.5 1194.0 L3066.2 1200.0 L3064.8 1206.0 L3063.4 1212.0 L3061.9 1218.0 L3060.4 1224.0 L3058.9 1230.0 L3057.4 1236.0 L3055.9 1242.0 L3054.4 1248.0 L3052.9 1254.0 L3051.4 1260.0 L3050.1 1266.0 L3048.8 1272.0 L3047.7 1278.0 L3046.5 1284.0 L3045.3 1290.0 L3043.9 1296.0 L3042.5 1302.0 L3041.0 1308.0 L3039.4 1314.0 L3037.6 1320.0 L3035.5 1326.0 L3033.3 1332.0 L3031.1 1338.0 L3029.0 1344.0 L3027.0 1350.0 L3025.1 1356.0 L3023.2 1362.0 L3021.3 1368.0 L3019.6 1374.0 L3017.9 1380.0 L3016.2 1386.0 L3014.2 1392.0 L3012.9 1395.0 L3011.6 1397.5 L3010.1 1400.0 L3008.4 1402.5 L3006.8 1405.0 L3005.2 1407.5 L3003.7 1410.0 L3002.1 1412.5 L3000.5 1415.0 L2998.9 1417.5 L2997.4 1420.0 L2995.9 1422.5 L2994.3 1425.0 L2992.7 1427.5 L2990.9 1430.0 L2989.0 1432.5 L2987.3 1435.0 L2985.7 1437.5 L2984.2 1440.0 L2982.8 1442.5 L2981.6 1445.0 L2980.6 1447.5 L2979.8 1450.0 L2979.2 1452.5 L2978.6 1455.0 L2978.2 1457.5 L2977.9 1460.0 L2977.6 1462.5 L2977.4 1465.0 L2977.1 1467.5 L2976.8 1470.0 L2976.3 1472.5 L2975.7 1475.0 L2975.0 1477.5 L2974.1 1480.0 L2972.9 1482.5 L2971.5 1485.0 L2969.9 1487.5 L2968.2 1490.0 L2966.3 1492.5 L2964.1 1495.0 L2961.8 1497.5 L2959.4 1500.0 L2956.8 1502.5 L2954.1 1505.0 L2951.2 1507.5 L2948.3 1510.0 L2945.3 1512.5 L2942.2 1515.0 L2939.0 1517.5 L2935.8 1520.0 L2932.6 1522.5 L2929.3 1525.0 L2926.0 1527.5 L2922.5 1530.0 L2918.9 1532.5 L2915.0 1535.0 L2911.0 1537.5 L2906.8 1540.0 L2902.5 1542.5 L2898.0 1545.0 L2893.4 1547.5 L2888.6 1550.0 L2883.6 1552.5 L2878.4 1555.0 L2873.1 1557.5 L2867.5 1560.0 L2861.6 1562.5 L2855.3 1565.0 L2848.7 1567.5 L2841.7 1570.0 L2834.2 1572.5 L2825.8 1575.0 L2816.0 1577.5 L2805.2 1580.0 L2794.2 1582.5 L2783.8 1585.0 L2773.8 1587.5 L2764.0 1590.0 L2754.3 1592.5 L2744.9 1595.0 L2735.7 1597.5 L2727.0 1600.0 L2718.5 1602.5 L2710.0 1605.0 L2701.5 1607.5 L2693.2 1610.0 L2685.4 1612.5 L2678.3 1615.0 L2672.2 1617.5 L2666.4 1620.0 L2661.1 1622.5 L2656.2 1625.0 L2651.8 1627.5 L2647.8 1630.0 L2644.1 1632.5 L2640.6 1635.0 L2637.4 1637.5 L2634.6 1640.0 L2632.3 1642.5 L2630.5 1645.0 L2628.9 1647.5 L2627.5 1650.0 L2626.3 1652.5 L2625.3 1655.0 L2624.6 1657.5 L2624.1 1660.0 L2623.7 1662.5 L2623.4 1665.0 L2623.5 1667.5 L2624.2 1670.0 L2625.2 1672.5 L2626.2 1675.0 L2627.5 1677.5 L2629.1 1680.0 L2631.3 1682.5 L2634.2 1685.0 L2637.9 1687.5 L2642.6 1690.0 L2648.8 1692.5 L2657.1 1695.0 L2668.1 1697.5 L2681.7 1700.0 L2698.9 1702.5 L2721.4 1705.0 L2748.6 1707.5 L2779.9 1710.0 L2810.8 1712.5 L2842.2 1715.0 L2873.9 1717.5 L2898.6 1719.5 L3354.6 1719.5 L3379.3 1717.5 L3411.0 1715.0 L3442.4 1712.5 L3473.3 1710.0 L3504.6 1707.5 L3531.8 1705.0 L3554.3 1702.5 L3571.5 1700.0 L3585.1 1697.5 L3596.1 1695.0 L3604.4 1692.5 L3610.6 1690.0 L3615.3 1687.5 L3619.0 1685.0 L3621.9 1682.5 L3624.1 1680.0 L3625.7 1677.5 L3627.0 1675.0 L3628.0 1672.5 L3629.0 1670.0 L3629.7 1667.5 L3629.8 1665.0 L3629.5 1662.5 L3629.1 1660.0 L3628.6 1657.5 L3627.9 1655.0 L3626.9 1652.5 L3625.7 1650.0 L3624.3 1647.5 L3622.7 1645.0 L3620.9 1642.5 L3618.6 1640.0 L3615.8 1637.5 L3612.6 1635.0 L3609.1 1632.5 L3605.4 1630.0 L3601.4 1627.5 L3597.0 1625.0 L3592.1 1622.5 L3586.8 1620.0 L3581.0 1617.5 L3574.9 1615.0 L3567.8 1612.5 L3560.0 1610.0 L3551.7 1607.5 L3543.2 1605.0 L3534.7 1602.5 L3526.2 1600.0 L3517.5 1597.5 L3508.3 1595.0 L3498.9 1592.5 L3489.2 1590.0 L3479.4 1587.5 L3469.4 1585.0 L3459.0 1582.5 L3448.0 1580.0 L3437.2 1577.5 L3427.4 1575.0 L3419.0 1572.5 L3411.5 1570.0 L3404.5 1567.5 L3397.9 1565.0 L3391.6 1562.5 L3385.7 1560.0 L3380.1 1557.5 L3374.8 1555.0 L3369.6 1552.5 L3364.6 1550.0 L3359.8 1547.5 L3355.2 1545.0 L3350.7 1542.5 L3346.4 1540.0 L3342.2 1537.5 L3338.2 1535.0 L3334.3 1532.5 L3330.7 1530.0 L3327.2 1527.5 L3323.9 1525.0 L3320.6 1522.5 L3317.4 1520.0 L3314.2 1517.5 L3311.0 1515.0 L3307.9 1512.5 L3304.9 1510.0 L3302.0 1507.5 L3299.1 1505.0 L3296.4 1502.5 L3293.8 1500.0 L3291.4 1497.5 L3289.1 1495.0 L3286.9 1492.5 L3285.0 1490.0 L3283.3 1487.5 L3281.7 1485.0 L3280.3 1482.5 L3279.1 1480.0 L3278.2 1477.5 L3277.5 1475.0 L3276.9 1472.5 L3276.4 1470.0 L3276.1 1467.5 L3275.8 1465.0 L3275.6 1462.5 L3275.3 1460.0 L3275.0 1457.5 L3274.6 1455.0 L3274.0 1452.5 L3273.4 1450.0 L3272.6 1447.5 L3271.6 1445.0 L3270.4 1442.5 L3269.0 1440.0 L3267.5 1437.5 L3265.9 1435.0 L3264.2 1432.5 L3262.3 1430.0 L3260.5 1427.5 L3258.9 1425.0 L3257.3 1422.5 L3255.8 1420.0 L3254.3 1417.5 L3252.7 1415.0 L3251.1 1412.5 L3249.5 1410.0 L3248.0 1407.5 L3246.4 1405.0 L3244.8 1402.5 L3243.1 1400.0 L3241.6 1397.5 L3240.3 1395.0 L3239.0 1392.0 L3237.0 1386.0 L3235.3 1380.0 L3233.6 1374.0 L3231.9 1368.0 L3230.0 1362.0 L3228.1 1356.0 L3226.2 1350.0 L3224.2 1344.0 L3222.1 1338.0 L3219.9 1332.0 L3217.7 1326.0 L3215.6 1320.0 L3213.8 1314.0 L3212.2 1308.0 L3210.7 1302.0 L3209.3 1296.0 L3207.9 1290.0 L3206.7 1284.0 L3205.5 1278.0 L3204.4 1272.0 L3203.1 1266.0 L3201.8 1260.0 L3200.3 1254.0 L3198.8 1248.0 L3197.3 1242.0 L3195.8 1236.0 L3194.3 1230.0 L3192.8 1224.0 L3191.3 1218.0 L3189.8 1212.0 L3188.4 1206.0 L3187.0 1200.0 L3185.7 1194.0 L3184.3 1188.0 L3182.9 1182.0 L3181.6 1176.0 L3180.2 1170.0 L3178.8 1164.0 L3177.4 1158.0 L3176.0 1152.0 L3174.5 1146.0 L3173.1 1140.0 L3171.6 1134.0 L3170.1 1128.0 L3168.6 1122.0 L3167.1 1116.0 L3165.6 1110.0 L3164.0 1104.0 L3162.4 1098.0 L3160.8 1092.0 L3159.3 1086.0 L3158.1 1080.0 L3157.2 1074.0 L3156.4 1068.0 L3155.7 1062.0 L3155.2 1056.0 L3154.7 1050.0 L3154.2 1044.0 L3153.7 1038.0 L3153.3 1032.0 L3152.8 1026.0 L3152.2 1020.0 L3151.7 1014.0 L3151.1 1008.0 L3150.6 1002.0 L3150.1 996.0 L3149.7 990.0 L3149.2 984.0 L3148.8 978.0 L3148.4 972.0 L3148.0 966.0 L3147.7 960.0 L3147.3 954.0 L3147.0 948.0 L3146.7 942.0 L3146.4 936.0 L3146.1 930.0 L3145.8 924.0 L3145.5 918.0 L3145.2 912.0 L3144.8 906.0 L3144.5 900.0 L3144.2 894.0 L3144.0 888.0 L3143.8 882.0 L3143.5 876.0 L3143.3 870.0 L3143.2 864.0 L3143.0 858.0 L3143.0 852.0 L3143.0 846.0 L3143.1 840.0 L3143.2 834.0 L3143.3 828.0 L3143.5 822.0 L3143.6 816.0 L3143.9 810.0 L3144.4 804.0 L3144.8 798.0 L3145.1 792.0 L3145.0 786.0 L3144.3 780.0 L3143.2 774.0 L3142.3 768.0 L3141.7 762.0 L3141.1 756.0 L3140.5 750.0 L3140.0 744.0 L3139.4 738.0 L3138.8 732.0 L3138.1 726.0 L3137.4 720.0 L3136.7 714.0 L3136.2 708.0 L3135.7 702.0 L3135.4 696.0 L3135.1 690.0 L3134.8 684.0 L3134.5 678.0 L3134.2 672.0 L3133.9 666.0 L3133.7 660.0 L3133.5 654.0 L3133.3 648.0 L3133.1 642.0 L3132.9 636.0 L3132.7 630.0 L3132.5 624.0 L3132.4 618.0 L3132.3 612.0 L3132.2 606.0 L3132.1 600.0 L3132.0 594.0 L3131.9 588.0 L3131.9 582.0 L3131.8 576.0 L3131.7 570.0 L3131.7 564.0 L3131.6 558.0 L3131.5 552.0 L3131.5 546.0 L3131.4 540.0 L3131.3 534.0 L3131.3 528.0 L3131.2 522.0 L3131.2 516.0 L3131.1 510.0 L3131.1 504.0 L3131.0 498.0 L3131.0 492.0 L3131.0 486.0 L3130.9 480.0 L3130.9 474.0 L3130.8 468.0 L3130.8 462.0 L3130.8 456.0 L3130.7 450.0 L3130.7 444.0 L3130.7 438.0 L3130.7 432.0 L3130.7 426.0 L3130.6 420.0 L3130.6 414.0 L3130.6 408.0 L3130.6 402.0 L3130.6 396.0 L3130.6 390.0 L3130.6 384.0 L3130.6 378.0 L3130.6 372.0 L3130.6 366.0 L3130.5 360.0 L3130.5 354.0 L3130.5 348.0 L3130.5 342.0 L3130.5 336.0 L3130.5 330.0 L3130.5 324.0 L3130.5 318.0 L3130.5 312.0 L3130.5 306.0 L3130.5 300.0 L3130.5 294.0 L3130.5 288.0 L3130.5 282.0 L3130.5 276.0 L3130.5 270.0 L3130.5 264.0 L3130.4 258.0 L3130.4 252.0 L3130.4 246.0 L3130.4 240.0 L3130.4 234.0 L3130.4 228.0 L3130.4 222.0 L3130.4 216.0 L3130.4 210.0 L3130.4 204.0 L3130.4 198.0 L3130.4 192.0 L3130.4 186.0 L3130.4 180.0 L3130.4 174.0 L3130.4 168.0 L3130.4 162.0 L3130.4 156.0 L3130.4 150.0 L3130.4 144.0 L3130.4 138.0 L3130.4 132.0 L3130.4 126.0 Z"/>
</g>
<g>
<line x1="906.0" x2="906.0" y1="1413.3" y2="1206.9" stroke="#2c2626" stroke-width="5.2"/>
<line x1="906.0" x2="906.0" y1="1650.2" y2="1717.5" stroke="#2c2626" stroke-width="5.2"/>
<g fill="#000" fill-opacity="0.78" stroke="#000" stroke-opacity="0.78" stroke-width="2">
<circle cx="906.0" cy="126.3" r="14.2"/>
<circle cx="906.0" cy="135.5" r="14.2"/>
<circle cx="906.0" cy="156.0" r="14.2"/>
<circle cx="906.0" cy="214.8" r="14.2"/>
<circle cx="906.0" cy="237.0" r="14.2"/>
<circle cx="906.0" cy="243.0" r="14.2"/>
<circle cx="906.0" cy="259.8" r="14.2"/>
<circle cx="906.0" cy="307.5" r="14.2"/>
<circle cx="906.0" cy="311.5" r="14.2"/>
<circle cx="906.0" cy="316.0" r="14.2"/>
<circle cx="906.0" cy="327.0" r="14.2"/>
<circle cx="906.0" cy="331.5" r="14.2"/>
<circle cx="906.0" cy="409.0" r="14.2"/>
<circle cx="906.0" cy="411.6" r="14.2"/>
<circle cx="906.0" cy="414.2" r="14.2"/>
<circle cx="906.0" cy="416.8" r="14.2"/>
<circle cx="906.0" cy="419.4" r="14.2"/>
<circle cx="906.0" cy="422.0" r="14.2"/>
<circle cx="906.0" cy="424.6" r="14.2"/>
<circle cx="906.0" cy="427.2" r="14.2"/>
<circle cx="906.0" cy="429.8" r="14.2"/>
<circle cx="906.0" cy="432.4" r="14.2"/>
<circle cx="906.0" cy="435.0" r="14.2"/>
<circle cx="906.0" cy="437.6" r="14.2"/>
<circle cx="906.0" cy="440.2" r="14.2"/>
<circle cx="906.0" cy="442.8" r="14.2"/>
<circle cx="906.0" cy="445.4" r="14.2"/>
<circle cx="906.0" cy="448.0" r="14.2"/>
<circle cx="906.0" cy="450.6" r="14.2"/>
<circle cx="906.0" cy="453.2" r="14.2"/>
<circle cx="906.0" cy="455.8" r="14.2"/>
<circle cx="906.0" cy="458.4" r="14.2"/>
<circle cx="906.0" cy="461.0" r="14.2"/>
<circle cx="906.0" cy="463.6" r="14.2"/>
<circle cx="906.0" cy="466.2" r="14.2"/>
<circle cx="906.0" cy="468.8" r="14.2"/>
<circle cx="906.0" cy="471.4" r="14.2"/>
<circle cx="906.0" cy="474.0" r="14.2"/>
<circle cx="906.0" cy="476.6" r="14.2"/>
<circle cx="906.0" cy="479.2" r="14.2"/>
<circle cx="906.0" cy="481.8" r="14.2"/>
<circle cx="906.0" cy="484.4" r="14.2"/>
<circle cx="906.0" cy="487.0" r="14.2"/>
<circle cx="906.0" cy="489.6" r="14.2"/>
<circle cx="906.0" cy="492.2" r="14.2"/>
<circle cx="906.0" cy="494.8" r="14.2"/>
<circle cx="906.0" cy="497.4" r="14.2"/>
<circle cx="906.0" cy="500.0" r="14.2"/>
<circle cx="906.0" cy="502.6" r="14.2"/>
<circle cx="906.0" cy="505.2" r="14.2"/>
<circle cx="906.0" cy="507.8" r="14.2"/>
<circle cx="906.0" cy="510.4" r="14.2"/>
<circle cx="906.0" cy="513.0" r="14.2"/>
<circle cx="906.0" cy="515.6" r="14.2"/>
<circle cx="906.0" cy="518.2" r="14.2"/>
<circle cx="906.0" cy="520.8" r="14.2"/>
<circle cx="906.0" cy="523.4" r="14.2"/>
<circle cx="906.0" cy="526.0" r="14.2"/>
<circle cx="906.0" cy="528.6" r="14.2"/>
<circle cx="906.0" cy="531.2" r="14.2"/>
<circle cx="906.0" cy="533.8" r="14.2"/>
<circle cx="906.0" cy="536.4" r="14.2"/>
<circle cx="906.0" cy="539.0" r="14.2"/>
<circle cx="906.0" cy="541.6" r="14.2"/>
<circle cx="906.0" cy="544.2" r="14.2"/>
<circle cx="906.0" cy="546.8" r="14.2"/>
<circle cx="906.0" cy="549.4" r="14.2"/>
<circle cx="906.0" cy="552.0" r="14.2"/>
<circle cx="906.0" cy="554.6" r="14.2"/>
<circle cx="906.0" cy="557.2" r="14.2"/>
<circle cx="906.0" cy="559.8" r="14.2"/>
<circle cx="906.0" cy="562.4" r="14.2"/>
<circle cx="906.0" cy="565.0" r="14.2"/>
<circle cx="906.0" cy="567.6" r="14.2"/>
<circle cx="906.0" cy="570.2" r="14.2"/>
<circle cx="906.0" cy="572.8" r="14.2"/>
<circle cx="906.0" cy="575.4" r="14.2"/>
<circle cx="906.0" cy="578.0" r="14.2"/>
<circle cx="906.0" cy="580.6" r="14.2"/>
<circle cx="906.0" cy="583.2" r="14.2"/>
<circle cx="906.0" cy="585.8" r="14.2"/>
<circle cx="906.0" cy="588.4" r="14.2"/>
<circle cx="906.0" cy="591.0" r="14.2"/>
<circle cx="906.0" cy="593.6" r="14.2"/>
<circle cx="906.0" cy="596.2" r="14.2"/>
<circle cx="906.0" cy="598.8" r="14.2"/>
<circle cx="906.0" cy="601.4" r="14.2"/>
<circle cx="906.0" cy="604.0" r="14.2"/>
<circle cx="906.0" cy="606.6" r="14.2"/>
<circle cx="906.0" cy="609.2" r="14.2"/>
<circle cx="906.0" cy="611.8" r="14.2"/>
<circle cx="906.0" cy="614.4" r="14.2"/>
<circle cx="906.0" cy="617.0" r="14.2"/>
<circle cx="906.0" cy="619.6" r="14.2"/>
<circle cx="906.0" cy="622.2" r="14.2"/>
<circle cx="906.0" cy="624.8" r="14.2"/>
<circle cx="906.0" cy="627.4" r="14.2"/>
<circle cx="906.0" cy="630.0" r="14.2"/>
<circle cx="906.0" cy="632.6" r="14.2"/>
<circle cx="906.0" cy="635.2" r="14.2"/>
<circle cx="906.0" cy="637.8" r="14.2"/>
<circle cx="906.0" cy="640.4" r="14.2"/>
<circle cx="906.0" cy="643.0" r="14.2"/>
<circle cx="906.0" cy="645.6" r="14.2"/>
<circle cx="906.0" cy="648.2" r="14.2"/>
<circle cx="906.0" cy="650.8" r="14.2"/>
<circle cx="906.0" cy="653.4" r="14.2"/>
<circle cx="906.0" cy="656.0" r="14.2"/>
<circle cx="906.0" cy="658.6" r="14.2"/>
<circle cx="906.0" cy="661.2" r="14.2"/>
<circle cx="906.0" cy="663.8" r="14.2"/>
<circle cx="906.0" cy="666.4" r="14.2"/>
<circle cx="906.0" cy="669.0" r="14.2"/>
<circle cx="906.0" cy="671.6" r="14.2"/>
<circle cx="906.0" cy="674.2" r="14.2"/>
<circle cx="906.0" cy="676.8" r="14.2"/>
<circle cx="906.0" cy="679.4" r="14.2"/>
<circle cx="906.0" cy="682.0" r="14.2"/>
<circle cx="906.0" cy="684.6" r="14.2"/>
<circle cx="906.0" cy="687.2" r="14.2"/>
<circle cx="906.0" cy="689.8" r="14.2"/>
<circle cx="906.0" cy="692.4" r="14.2"/>
<circle cx="906.0" cy="695.0" r="14.2"/>
<circle cx="906.0" cy="697.6" r="14.2"/>
<circle cx="906.0" cy="700.2" r="14.2"/>
<circle cx="906.0" cy="702.8" r="14.2"/>
<circle cx="906.0" cy="705.4" r="14.2"/>
<circle cx="906.0" cy="708.0" r="14.2"/>
<circle cx="906.0" cy="710.6" r="14.2"/>
<circle cx="906.0" cy="713.2" r="14.2"/>
<circle cx="906.0" cy="715.8" r="14.2"/>
<circle cx="906.0" cy="718.4" r="14.2"/>
<circle cx="906.0" cy="721.0" r="14.2"/>
<circle cx="906.0" cy="723.6" r="14.2"/>
<circle cx="906.0" cy="726.2" r="14.2"/>
<circle cx="906.0" cy="728.8" r="14.2"/>
<circle cx="906.0" cy="731.4" r="14.2"/>
<circle cx="906.0" cy="734.0" r="14.2"/>
<circle cx="906.0" cy="736.6" r="14.2"/>
<circle cx="906.0" cy="739.2" r="14.2"/>
<circle cx="906.0" cy="741.8" r="14.2"/>
<circle cx="906.0" cy="744.4" r="14.2"/>
<circle cx="906.0" cy="747.0" r="14.2"/>
<circle cx="906.0" cy="749.6" r="14.2"/>
<circle cx="906.0" cy="752.2" r="14.2"/>
<circle cx="906.0" cy="754.8" r="14.2"/>
<circle cx="906.0" cy="757.4" r="14.2"/>
<circle cx="906.0" cy="760.0" r="14.2"/>
<circle cx="906.0" cy="762.6" r="14.2"/>
<circle cx="906.0" cy="765.2" r="14.2"/>
<circle cx="906.0" cy="767.8" r="14.2"/>
<circle cx="906.0" cy="770.4" r="14.2"/>
<circle cx="906.0" cy="773.0" r="14.2"/>
<circle cx="906.0" cy="775.6" r="14.2"/>
<circle cx="906.0" cy="778.2" r="14.2"/>
<circle cx="906.0" cy="780.8" r="14.2"/>
<circle cx="906.0" cy="783.4" r="14.2"/>
<circle cx="906.0" cy="786.0" r="14.2"/>
<circle cx="906.0" cy="788.6" r="14.2"/>
<circle cx="906.0" cy="791.2" r="14.2"/>
<circle cx="906.0" cy="793.8" r="14.2"/>
<circle cx="906.0" cy="796.4" r="14.2"/>
<circle cx="906.0" cy="799.0" r="14.2"/>
<circle cx="906.0" cy="801.6" r="14.2"/>
<circle cx="906.0" cy="804.2" r="14.2"/>
<circle cx="906.0" cy="806.8" r="14.2"/>
<circle cx="906.0" cy="809.4" r="14.2"/>
<circle cx="906.0" cy="812.0" r="14.2"/>
<circle cx="906.0" cy="814.6" r="14.2"/>
<circle cx="906.0" cy="817.2" r="14.2"/>
<circle cx="906.0" cy="819.8" r="14.2"/>
<circle cx="906.0" cy="822.4" r="14.2"/>
<circle cx="906.0" cy="825.0" r="14.2"/>
<circle cx="906.0" cy="827.6" r="14.2"/>
<circle cx="906.0" cy="830.2" r="14.2"/>
<circle cx="906.0" cy="832.8" r="14.2"/>
<circle cx="906.0" cy="835.4" r="14.2"/>
<circle cx="906.0" cy="838.0" r="14.2"/>
<circle cx="906.0" cy="840.6" r="14.2"/>
<circle cx="906.0" cy="843.2" r="14.2"/>
<circle cx="906.0" cy="845.8" r="14.2"/>
<circle cx="906.0" cy="848.4" r="14.2"/>
<circle cx="906.0" cy="851.0" r="14.2"/>
<circle cx="906.0" cy="853.6" r="14.2"/>
<circle cx="906.0" cy="856.2" r="14.2"/>
<circle cx="906.0" cy="858.8" r="14.2"/>
<circle cx="906.0" cy="861.4" r="14.2"/>
<circle cx="906.0" cy="864.0" r="14.2"/>
<circle cx="906.0" cy="866.6" r="14.2"/>
<circle cx="906.0" cy="869.2" r="14.2"/>
<circle cx="906.0" cy="871.8" r="14.2"/>
<circle cx="906.0" cy="874.4" r="14.2"/>
<circle cx="906.0" cy="877.0" r="14.2"/>
<circle cx="906.0" cy="879.6" r="14.2"/>
<circle cx="906.0" cy="882.2" r="14.2"/>
<circle cx="906.0" cy="884.8" r="14.2"/>
<circle cx="906.0" cy="887.4" r="14.2"/>
<circle cx="906.0" cy="890.0" r="14.2"/>
<circle cx="906.0" cy="892.6" r="14.2"/>
<circle cx="906.0" cy="895.2" r="14.2"/>
<circle cx="906.0" cy="897.8" r="14.2"/>
<circle cx="906.0" cy="900.4" r="14.2"/>
<circle cx="906.0" cy="903.0" r="14.2"/>
<circle cx="906.0" cy="905.6" r="14.2"/>
<circle cx="906.0" cy="908.2" r="14.2"/>
<circle cx="906.0" cy="910.8" r="14.2"/>
<circle cx="906.0" cy="913.4" r="14.2"/>
<circle cx="906.0" cy="916.0" r="14.2"/>
<circle cx="906.0" cy="918.6" r="14.2"/>
<circle cx="906.0" cy="921.2" r="14.2"/>
<circle cx="906.0" cy="923.8" r="14.2"/>
<circle cx="906.0" cy="926.4" r="14.2"/>
<circle cx="906.0" cy="929.0" r="14.2"/>
<circle cx="906.0" cy="931.6" r="14.2"/>
<circle cx="906.0" cy="934.2" r="14.2"/>
<circle cx="906.0" cy="936.8" r="14.2"/>
<circle cx="906.0" cy="939.4" r="14.2"/>
<circle cx="906.0" cy="942.0" r="14.2"/>
<circle cx="906.0" cy="944.6" r="14.2"/>
<circle cx="906.0" cy="947.2" r="14.2"/>
<circle cx="906.0" cy="949.8" r="14.2"/>
<circle cx="906.0" cy="952.4" r="14.2"/>
<circle cx="906.0" cy="955.0" r="14.2"/>
<circle cx="906.0" cy="957.6" r="14.2"/>
<circle cx="906.0" cy="960.2" r="14.2"/>
<circle cx="906.0" cy="962.8" r="14.2"/>
<circle cx="906.0" cy="965.4" r="14.2"/>
<circle cx="906.0" cy="968.0" r="14.2"/>
<circle cx="906.0" cy="970.6" r="14.2"/>
<circle cx="906.0" cy="973.2" r="14.2"/>
<circle cx="906.0" cy="975.8" r="14.2"/>
<circle cx="906.0" cy="978.4" r="14.2"/>
<circle cx="906.0" cy="981.0" r="14.2"/>
<circle cx="906.0" cy="983.6" r="14.2"/>
<circle cx="906.0" cy="986.2" r="14.2"/>
<circle cx="906.0" cy="988.8" r="14.2"/>
<circle cx="906.0" cy="991.4" r="14.2"/>
<circle cx="906.0" cy="994.0" r="14.2"/>
<circle cx="906.0" cy="996.6" r="14.2"/>
<circle cx="906.0" cy="999.2" r="14.2"/>
<circle cx="906.0" cy="1001.8" r="14.2"/>
<circle cx="906.0" cy="1004.4" r="14.2"/>
<circle cx="906.0" cy="1007.0" r="14.2"/>
<circle cx="906.0" cy="1009.6" r="14.2"/>
<circle cx="906.0" cy="1012.2" r="14.2"/>
<circle cx="906.0" cy="1014.8" r="14.2"/>
<circle cx="906.0" cy="1017.4" r="14.2"/>
<circle cx="906.0" cy="1020.0" r="14.2"/>
<circle cx="906.0" cy="1022.6" r="14.2"/>
<circle cx="906.0" cy="1025.2" r="14.2"/>
<circle cx="906.0" cy="1027.8" r="14.2"/>
<circle cx="906.0" cy="1030.4" r="14.2"/>
<circle cx="906.0" cy="1033.0" r="14.2"/>
<circle cx="906.0" cy="1035.6" r="14.2"/>
<circle cx="906.0" cy="1038.2" r="14.2"/>
<circle cx="906.0" cy="1040.8" r="14.2"/>
<circle cx="906.0" cy="1043.4" r="14.2"/>
<circle cx="906.0" cy="1046.0" r="14.2"/>
<circle cx="906.0" cy="1048.6" r="14.2"/>
<circle cx="906.0" cy="1051.2" r="14.2"/>
<circle cx="906.0" cy="1053.8" r="14.2"/>
<circle cx="906.0" cy="1056.4" r="14.2"/>
<circle cx="906.0" cy="1059.0" r="14.2"/>
<circle cx="906.0" cy="1061.6" r="14.2"/>
<circle cx="906.0" cy="1064.2" r="14.2"/>
<circle cx="906.0" cy="1066.8" r="14.2"/>
<circle cx="906.0" cy="1069.4" r="14.2"/>
<circle cx="906.0" cy="1072.0" r="14.2"/>
<circle cx="906.0" cy="1074.6" r="14.2"/>
<circle cx="906.0" cy="1077.2" r="14.2"/>
<circle cx="906.0" cy="1079.8" r="14.2"/>
<circle cx="906.0" cy="1082.4" r="14.2"/>
<circle cx="906.0" cy="1085.0" r="14.2"/>
<circle cx="906.0" cy="1087.6" r="14.2"/>
<circle cx="906.0" cy="1090.2" r="14.2"/>
<circle cx="906.0" cy="1092.8" r="14.2"/>
<circle cx="906.0" cy="1095.4" r="14.2"/>
<circle cx="906.0" cy="1098.0" r="14.2"/>
<circle cx="906.0" cy="1100.6" r="14.2"/>
<circle cx="906.0" cy="1103.2" r="14.2"/>
<circle cx="906.0" cy="1105.8" r="14.2"/>
<circle cx="906.0" cy="1108.4" r="14.2"/>
<circle cx="906.0" cy="1111.0" r="14.2"/>
<circle cx="906.0" cy="1113.6" r="14.2"/>
<circle cx="906.0" cy="1116.2" r="14.2"/>
<circle cx="906.0" cy="1118.8" r="14.2"/>
<circle cx="906.0" cy="1121.4" r="14.2"/>
<circle cx="906.0" cy="1124.0" r="14.2"/>
<circle cx="906.0" cy="1126.6" r="14.2"/>
<circle cx="906.0" cy="1129.2" r="14.2"/>
<circle cx="906.0" cy="1131.8" r="14.2"/>
<circle cx="906.0" cy="1134.4" r="14.2"/>
<circle cx="906.0" cy="1137.0" r="14.2"/>
<circle cx="906.0" cy="1139.6" r="14.2"/>
<circle cx="906.0" cy="1142.2" r="14.2"/>
<circle cx="906.0" cy="1144.8" r="14.2"/>
<circle cx="906.0" cy="1147.4" r="14.2"/>
<circle cx="906.0" cy="1150.0" r="14.2"/>
<circle cx="906.0" cy="1152.6" r="14.2"/>
<circle cx="906.0" cy="1155.2" r="14.2"/>
<circle cx="906.0" cy="1157.8" r="14.2"/>
<circle cx="906.0" cy="1160.4" r="14.2"/>
<circle cx="906.0" cy="1163.0" r="14.2"/>
<circle cx="906.0" cy="1165.6" r="14.2"/>
<circle cx="906.0" cy="1168.2" r="14.2"/>
<circle cx="906.0" cy="1170.8" r="14.2"/>
<circle cx="906.0" cy="1173.4" r="14.2"/>
<circle cx="906.0" cy="1176.0" r="14.2"/>
<circle cx="906.0" cy="1178.6" r="14.2"/>
<circle cx="906.0" cy="1181.2" r="14.2"/>
<circle cx="906.0" cy="1183.8" r="14.2"/>
<circle cx="906.0" cy="1186.4" r="14.2"/>
<circle cx="906.0" cy="1189.0" r="14.2"/>
<circle cx="906.0" cy="1191.6" r="14.2"/>
<circle cx="906.0" cy="1194.2" r="14.2"/>
<circle cx="906.0" cy="1196.8" r="14.2"/>
<circle cx="906.0" cy="1199.4" r="14.2"/>
<circle cx="906.0" cy="1202.0" r="14.2"/>
<circle cx="906.0" cy="1204.6" r="14.2"/>
<circle cx="906.0" cy="1207.2" r="14.2"/>
<circle cx="906.0" cy="1209.8" r="14.2"/>
<circle cx="906.0" cy="1212.4" r="14.2"/>
<circle cx="906.0" cy="1215.0" r="14.2"/>
<circle cx="906.0" cy="1217.6" r="14.2"/>
<circle cx="906.0" cy="1220.2" r="14.2"/>
<circle cx="906.0" cy="1222.1" r="14.2"/>
</g>
<rect x="517.5" y="1413.3" width="777.0" height="236.9" fill="#fff" fill-opacity="0.65" stroke="#2b2b2b" stroke-width="5.2" stroke-linejoin="miter"/>
<line x1="517.5" x2="1294.5" y1="1573.4" y2="1573.4" stroke="#2e2e2e" stroke-width="10.5"/>
</g>
<g>
<line x1="2016.3" x2="2016.3" y1="1402.5" y2="1192.5" stroke="#2c2626" stroke-width="5.2"/>
<line x1="2016.3" x2="2016.3" y1="1650.8" y2="1717.5" stroke="#2c2626" stroke-width="5.2"/>
<g fill="#000" fill-opacity="0.78" stroke="#000" stroke-opacity="0.78" stroke-width="2">
<circle cx="2016.3" cy="126.3" r="14.2"/>
<circle cx="2016.3" cy="135.5" r="14.2"/>
<circle cx="2016.3" cy="156.0" r="14.2"/>
<circle cx="2016.3" cy="214.8" r="14.2"/>
<circle cx="2016.3" cy="237.0" r="14.2"/>
<circle cx="2016.3" cy="243.0" r="14.2"/>
<circle cx="2016.3" cy="259.8" r="14.2"/>
<circle cx="2016.3" cy="307.5" r="14.2"/>
<circle cx="2016.3" cy="311.5" r="14.2"/>
<circle cx="2016.3" cy="316.0" r="14.2"/>
<circle cx="2016.3" cy="327.0" r="14.2"/>
<circle cx="2016.3" cy="331.5" r="14.2"/>
<circle cx="2016.3" cy="409.0" r="14.2"/>
<circle cx="2016.3" cy="411.6" r="14.2"/>
<circle cx="2016.3" cy="414.2" r="14.2"/>
<circle cx="2016.3" cy="416.8" r="14.2"/>
<circle cx="2016.3" cy="419.4" r="14.2"/>
<circle cx="2016.3" cy="422.0" r="14.2"/>
<circle cx="2016.3" cy="424.6" r="14.2"/>
<circle cx="2016.3" cy="427.2" r="14.2"/>
<circle cx="2016.3" cy="429.8" r="14.2"/>
<circle cx="2016.3" cy="432.4" r="14.2"/>
<circle cx="2016.3" cy="435.0" r="14.2"/>
<circle cx="2016.3" cy="437.6" r="14.2"/>
<circle cx="2016.3" cy="440.2" r="14.2"/>
<circle cx="2016.3" cy="442.8" r="14.2"/>
<circle cx="2016.3" cy="445.4" r="14.2"/>
<circle cx="2016.3" cy="448.0" r="14.2"/>
<circle cx="2016.3" cy="450.6" r="14.2"/>
<circle cx="2016.3" cy="453.2" r="14.2"/>
<circle cx="2016.3" cy="455.8" r="14.2"/>
<circle cx="2016.3" cy="458.4" r="14.2"/>
<circle cx="2016.3" cy="461.0" r="14.2"/>
<circle cx="2016.3" cy="463.6" r="14.2"/>
<circle cx="2016.3" cy="466.2" r="14.2"/>
<circle cx="2016.3" cy="468.8" r="14.2"/>
<circle cx="2016.3" cy="471.4" r="14.2"/>
<circle cx="2016.3" cy="474.0" r="14.2"/>
<circle cx="2016.3" cy="476.6" r="14.2"/>
<circle cx="2016.3" cy="479.2" r="14.2"/>
<circle cx="2016.3" cy="481.8" r="14.2"/>
<circle cx="2016.3" cy="484.4" r="14.2"/>
<circle cx="2016.3" cy="487.0" r="14.2"/>
<circle cx="2016.3" cy="489.6" r="14.2"/>
<circle cx="2016.3" cy="492.2" r="14.2"/>
<circle cx="2016.3" cy="494.8" r="14.2"/>
<circle cx="2016.3" cy="497.4" r="14.2"/>
<circle cx="2016.3" cy="500.0" r="14.2"/>
<circle cx="2016.3" cy="502.6" r="14.2"/>
<circle cx="2016.3" cy="505.2" r="14.2"/>
<circle cx="2016.3" cy="507.8" r="14.2"/>
<circle cx="2016.3" cy="510.4" r="14.2"/>
<circle cx="2016.3" cy="513.0" r="14.2"/>
<circle cx="2016.3" cy="515.6" r="14.2"/>
<circle cx="2016.3" cy="518.2" r="14.2"/>
<circle cx="2016.3" cy="520.8" r="14.2"/>
<circle cx="2016.3" cy="523.4" r="14.2"/>
<circle cx="2016.3" cy="526.0" r="14.2"/>
<circle cx="2016.3" cy="528.6" r="14.2"/>
<circle cx="2016.3" cy="531.2" r="14.2"/>
<circle cx="2016.3" cy="533.8" r="14.2"/>
<circle cx="2016.3" cy="536.4" r="14.2"/>
<circle cx="2016.3" cy="539.0" r="14.2"/>
<circle cx="2016.3" cy="541.6" r="14.2"/>
<circle cx="2016.3" cy="544.2" r="14.2"/>
<circle cx="2016.3" cy="546.8" r="14.2"/>
<circle cx="2016.3" cy="549.4" r="14.2"/>
<circle cx="2016.3" cy="552.0" r="14.2"/>
<circle cx="2016.3" cy="554.6" r="14.2"/>
<circle cx="2016.3" cy="557.2" r="14.2"/>
<circle cx="2016.3" cy="559.8" r="14.2"/>
<circle cx="2016.3" cy="562.4" r="14.2"/>
<circle cx="2016.3" cy="565.0" r="14.2"/>
<circle cx="2016.3" cy="567.6" r="14.2"/>
<circle cx="2016.3" cy="570.2" r="14.2"/>
<circle cx="2016.3" cy="572.8" r="14.2"/>
<circle cx="2016.3" cy="575.4" r="14.2"/>
<circle cx="2016.3" cy="578.0" r="14.2"/>
<circle cx="2016.3" cy="580.6" r="14.2"/>
<circle cx="2016.3" cy="583.2" r="14.2"/>
<circle cx="2016.3" cy="585.8" r="14.2"/>
<circle cx="2016.3" cy="588.4" r="14.2"/>
<circle cx="2016.3" cy="591.0" r="14.2"/>
<circle cx="2016.3" cy="593.6" r="14.2"/>
<circle cx="2016.3" cy="596.2" r="14.2"/>
<circle cx="2016.3" cy="598.8" r="14.2"/>
<circle cx="2016.3" cy="601.4" r="14.2"/>
<circle cx="2016.3" cy="604.0" r="14.2"/>
<circle cx="2016.3" cy="606.6" r="14.2"/>
<circle cx="2016.3" cy="609.2" r="14.2"/>
<circle cx="2016.3" cy="611.8" r="14.2"/>
<circle cx="2016.3" cy="614.4" r="14.2"/>
<circle cx="2016.3" cy="617.0" r="14.2"/>
<circle cx="2016.3" cy="619.6" r="14.2"/>
<circle cx="2016.3" cy="622.2" r="14.2"/>
<circle cx="2016.3" cy="624.8" r="14.2"/>
<circle cx="2016.3" cy="627.4" r="14.2"/>
<circle cx="2016.3" cy="630.0" r="14.2"/>
<circle cx="2016.3" cy="632.6" r="14.2"/>
<circle cx="2016.3" cy="635.2" r="14.2"/>
<circle cx="2016.3" cy="637.8" r="14.2"/>
<circle cx="2016.3" cy="640.4" r="14.2"/>
<circle cx="2016.3" cy="643.0" r="14.2"/>
<circle cx="2016.3" cy="645.6" r="14.2"/>
<circle cx="2016.3" cy="648.2" r="14.2"/>
<circle cx="2016.3" cy="650.8" r="14.2"/>
<circle cx="2016.3" cy="653.4" r="14.2"/>
<circle cx="2016.3" cy="656.0" r="14.2"/>
<circle cx="2016.3" cy="658.6" r="14.2"/>
<circle cx="2016.3" cy="661.2" r="14.2"/>
<circle cx="2016.3" cy="663.8" r="14.2"/>
<circle cx="2016.3" cy="666.4" r="14.2"/>
<circle cx="2016.3" cy="669.0" r="14.2"/>
<circle cx="2016.3" cy="671.6" r="14.2"/>
<circle cx="2016.3" cy="674.2" r="14.2"/>
<circle cx="2016.3" cy="676.8" r="14.2"/>
<circle cx="2016.3" cy="679.4" r="14.2"/>
<circle cx="2016.3" cy="682.0" r="14.2"/>
<circle cx="2016.3" cy="684.6" r="14.2"/>
<circle cx="2016.3" cy="687.2" r="14.2"/>
<circle cx="2016.3" cy="689.8" r="14.2"/>
<circle cx="2016.3" cy="692.4" r="14.2"/>
<circle cx="2016.3" cy="695.0" r="14.2"/>
<circle cx="2016.3" cy="697.6" r="14.2"/>
<circle cx="2016.3" cy="700.2" r="14.2"/>
<circle cx="2016.3" cy="702.8" r="14.2"/>
<circle cx="2016.3" cy="705.4" r="14.2"/>
<circle cx="2016.3" cy="708.0" r="14.2"/>
<circle cx="2016.3" cy="710.6" r="14.2"/>
<circle cx="2016.3" cy="713.2" r="14.2"/>
<circle cx="2016.3" cy="715.8" r="14.2"/>
<circle cx="2016.3" cy="718.4" r="14.2"/>
<circle cx="2016.3" cy="721.0" r="14.2"/>
<circle cx="2016.3" cy="723.6" r="14.2"/>
<circle cx="2016.3" cy="726.2" r="14.2"/>
<circle cx="2016.3" cy="728.8" r="14.2"/>
<circle cx="2016.3" cy="731.4" r="14.2"/>
<circle cx="2016.3" cy="734.0" r="14.2"/>
<circle cx="2016.3" cy="736.6" r="14.2"/>
<circle cx="2016.3" cy="739.2" r="14.2"/>
<circle cx="2016.3" cy="741.8" r="14.2"/>
<circle cx="2016.3" cy="744.4" r="14.2"/>
<circle cx="2016.3" cy="747.0" r="14.2"/>
<circle cx="2016.3" cy="749.6" r="14.2"/>
<circle cx="2016.3" cy="752.2" r="14.2"/>
<circle cx="2016.3" cy="754.8" r="14.2"/>
<circle cx="2016.3" cy="757.4" r="14.2"/>
<circle cx="2016.3" cy="760.0" r="14.2"/>
<circle cx="2016.3" cy="762.6" r="14.2"/>
<circle cx="2016.3" cy="765.2" r="14.2"/>
<circle cx="2016.3" cy="767.8" r="14.2"/>
<circle cx="2016.3" cy="770.4" r="14.2"/>
<circle cx="2016.3" cy="773.0" r="14.2"/>
<circle cx="2016.3" cy="775.6" r="14.2"/>
<circle cx="2016.3" cy="778.2" r="14.2"/>
<circle cx="2016.3" cy="780.8" r="14.2"/>
<circle cx="2016.3" cy="783.4" r="14.2"/>
<circle cx="2016.3" cy="786.0" r="14.2"/>
<circle cx="2016.3" cy="788.6" r="14.2"/>
<circle cx="2016.3" cy="791.2" r="14.2"/>
<circle cx="2016.3" cy="793.8" r="14.2"/>
<circle cx="2016.3" cy="796.4" r="14.2"/>
<circle cx="2016.3" cy="799.0" r="14.2"/>
<circle cx="2016.3" cy="801.6" r="14.2"/>
<circle cx="2016.3" cy="804.2" r="14.2"/>
<circle cx="2016.3" cy="806.8" r="14.2"/>
<circle cx="2016.3" cy="809.4" r="14.2"/>
<circle cx="2016.3" cy="812.0" r="14.2"/>
<circle cx="2016.3" cy="814.6" r="14.2"/>
<circle cx="2016.3" cy="817.2" r="14.2"/>
<circle cx="2016.3" cy="819.8" r="14.2"/>
<circle cx="2016.3" cy="822.4" r="14.2"/>
<circle cx="2016.3" cy="825.0" r="14.2"/>
<circle cx="2016.3" cy="827.6" r="14.2"/>
<circle cx="2016.3" cy="830.2" r="14.2"/>
<circle cx="2016.3" cy="832.8" r="14.2"/>
<circle cx="2016.3" cy="835.4" r="14.2"/>
<circle cx="2016.3" cy="838.0" r="14.2"/>
<circle cx="2016.3" cy="840.6" r="14.2"/>
<circle cx="2016.3" cy="843.2" r="14.2"/>
<circle cx="2016.3" cy="845.8" r="14.2"/>
<circle cx="2016.3" cy="848.4" r="14.2"/>
<circle cx="2016.3" cy="851.0" r="14.2"/>
<circle cx="2016.3" cy="853.6" r="14.2"/>
<circle cx="2016.3" cy="856.2" r="14.2"/>
<circle cx="2016.3" cy="858.8" r="14.2"/>
<circle cx="2016.3" cy="861.4" r="14.2"/>
<circle cx="2016.3" cy="864.0" r="14.2"/>
<circle cx="2016.3" cy="866.6" r="14.2"/>
<circle cx="2016.3" cy="869.2" r="14.2"/>
<circle cx="2016.3" cy="871.8" r="14.2"/>
<circle cx="2016.3" cy="874.4" r="14.2"/>
<circle cx="2016.3" cy="877.0" r="14.2"/>
<circle cx="2016.3" cy="879.6" r="14.2"/>
<circle cx="2016.3" cy="882.2" r="14.2"/>
<circle cx="2016.3" cy="884.8" r="14.2"/>
<circle cx="2016.3" cy="887.4" r="14.2"/>
<circle cx="2016.3" cy="890.0" r="14.2"/>
<circle cx="2016.3" cy="892.6" r="14.2"/>
<circle cx="2016.3" cy="895.2" r="14.2"/>
<circle cx="2016.3" cy="897.8" r="14.2"/>
<circle cx="2016.3" cy="900.4" r="14.2"/>
<circle cx="2016.3" cy="903.0" r="14.2"/>
<circle cx="2016.3" cy="905.6" r="14.2"/>
<circle cx="2016.3" cy="908.2" r="14.2"/>
<circle cx="2016.3" cy="910.8" r="14.2"/>
<circle cx="2016.3" cy="913.4" r="14.2"/>
<circle cx="2016.3" cy="916.0" r="14.2"/>
<circle cx="2016.3" cy="918.6" r="14.2"/>
<circle cx="2016.3" cy="921.2" r="14.2"/>
<circle cx="2016.3" cy="923.8" r="14.2"/>
<circle cx="2016.3" cy="926.4" r="14.2"/>
<circle cx="2016.3" cy="929.0" r="14.2"/>
<circle cx="2016.3" cy="931.6" r="14.2"/>
<circle cx="2016.3" cy="934.2" r="14.2"/>
<circle cx="2016.3" cy="936.8" r="14.2"/>
<circle cx="2016.3" cy="939.4" r="14.2"/>
<circle cx="2016.3" cy="942.0" r="14.2"/>
<circle cx="2016.3" cy="944.6" r="14.2"/>
<circle cx="2016.3" cy="947.2" r="14.2"/>
<circle cx="2016.3" cy="949.8" r="14.2"/>
<circle cx="2016.3" cy="952.4" r="14.2"/>
<circle cx="2016.3" cy="955.0" r="14.2"/>
<circle cx="2016.3" cy="957.6" r="14.2"/>
<circle cx="2016.3" cy="960.2" r="14.2"/>
<circle cx="2016.3" cy="962.8" r="14.2"/>
<circle cx="2016.3" cy="965.4" r="14.2"/>
<circle cx="2016.3" cy="968.0" r="14.2"/>
<circle cx="2016.3" cy="970.6" r="14.2"/>
<circle cx="2016.3" cy="973.2" r="14.2"/>
<circle cx="2016.3" cy="975.8" r="14.2"/>
<circle cx="2016.3" cy="978.4" r="14.2"/>
<circle cx="2016.3" cy="981.0" r="14.2"/>
<circle cx="2016.3" cy="983.6" r="14.2"/>
<circle cx="2016.3" cy="986.2" r="14.2"/>
<circle cx="2016.3" cy="988.8" r="14.2"/>
<circle cx="2016.3" cy="991.4" r="14.2"/>
<circle cx="2016.3" cy="994.0" r="14.2"/>
<circle cx="2016.3" cy="996.6" r="14.2"/>
<circle cx="2016.3" cy="999.2" r="14.2"/>
<circle cx="2016.3" cy="1001.8" r="14.2"/>
<circle cx="2016.3" cy="1004.4" r="14.2"/>
<circle cx="2016.3" cy="1007.0" r="14.2"/>
<circle cx="2016.3" cy="1009.6" r="14.2"/>
<circle cx="2016.3" cy="1012.2" r="14.2"/>
<circle cx="2016.3" cy="1014.8" r="14.2"/>
<circle cx="2016.3" cy="1017.4" r="14.2"/>
<circle cx="2016.3" cy="1020.0" r="14.2"/>
<circle cx="2016.3" cy="1022.6" r="14.2"/>
<circle cx="2016.3" cy="1025.2" r="14.2"/>
<circle cx="2016.3" cy="1027.8" r="14.2"/>
<circle cx="2016.3" cy="1030.4" r="14.2"/>
<circle cx="2016.3" cy="1033.0" r="14.2"/>
<circle cx="2016.3" cy="1035.6" r="14.2"/>
<circle cx="2016.3" cy="1038.2" r="14.2"/>
<circle cx="2016.3" cy="1040.8" r="14.2"/>
<circle cx="2016.3" cy="1043.4" r="14.2"/>
<circle cx="2016.3" cy="1046.0" r="14.2"/>
<circle cx="2016.3" cy="1048.6" r="14.2"/>
<circle cx="2016.3" cy="1051.2" r="14.2"/>
<circle cx="2016.3" cy="1053.8" r="14.2"/>
<circle cx="2016.3" cy="1056.4" r="14.2"/>
<circle cx="2016.3" cy="1059.0" r="14.2"/>
<circle cx="2016.3" cy="1061.6" r="14.2"/>
<circle cx="2016.3" cy="1064.2" r="14.2"/>
<circle cx="2016.3" cy="1066.8" r="14.2"/>
<circle cx="2016.3" cy="1069.4" r="14.2"/>
<circle cx="2016.3" cy="1072.0" r="14.2"/>
<circle cx="2016.3" cy="1074.6" r="14.2"/>
<circle cx="2016.3" cy="1077.2" r="14.2"/>
<circle cx="2016.3" cy="1079.8" r="14.2"/>
<circle cx="2016.3" cy="1082.4" r="14.2"/>
<circle cx="2016.3" cy="1085.0" r="14.2"/>
<circle cx="2016.3" cy="1087.6" r="14.2"/>
<circle cx="2016.3" cy="1090.2" r="14.2"/>
<circle cx="2016.3" cy="1092.8" r="14.2"/>
<circle cx="2016.3" cy="1095.4" r="14.2"/>
<circle cx="2016.3" cy="1098.0" r="14.2"/>
<circle cx="2016.3" cy="1100.6" r="14.2"/>
<circle cx="2016.3" cy="1103.2" r="14.2"/>
<circle cx="2016.3" cy="1105.8" r="14.2"/>
<circle cx="2016.3" cy="1108.4" r="14.2"/>
<circle cx="2016.3" cy="1111.0" r="14.2"/>
<circle cx="2016.3" cy="1113.6" r="14.2"/>
<circle cx="2016.3" cy="1116.2" r="14.2"/>
<circle cx="2016.3" cy="1118.8" r="14.2"/>
<circle cx="2016.3" cy="1121.4" r="14.2"/>
<circle cx="2016.3" cy="1124.0" r="14.2"/>
<circle cx="2016.3" cy="1126.6" r="14.2"/>
<circle cx="2016.3" cy="1129.2" r="14.2"/>
<circle cx="2016.3" cy="1131.8" r="14.2"/>
<circle cx="2016.3" cy="1134.4" r="14.2"/>
<circle cx="2016.3" cy="1137.0" r="14.2"/>
<circle cx="2016.3" cy="1139.6" r="14.2"/>
<circle cx="2016.3" cy="1142.2" r="14.2"/>
<circle cx="2016.3" cy="1144.8" r="14.2"/>
<circle cx="2016.3" cy="1147.4" r="14.2"/>
<circle cx="2016.3" cy="1150.0" r="14.2"/>
<circle cx="2016.3" cy="1152.6" r="14.2"/>
<circle cx="2016.3" cy="1155.2" r="14.2"/>
<circle cx="2016.3" cy="1157.8" r="14.2"/>
<circle cx="2016.3" cy="1160.4" r="14.2"/>
<circle cx="2016.3" cy="1163.0" r="14.2"/>
<circle cx="2016.3" cy="1165.6" r="14.2"/>
<circle cx="2016.3" cy="1168.2" r="14.2"/>
<circle cx="2016.3" cy="1170.8" r="14.2"/>
<circle cx="2016.3" cy="1173.4" r="14.2"/>
<circle cx="2016.3" cy="1176.0" r="14.2"/>
<circle cx="2016.3" cy="1178.6" r="14.2"/>
<circle cx="2016.3" cy="1181.2" r="14.2"/>
<circle cx="2016.3" cy="1183.8" r="14.2"/>
<circle cx="2016.3" cy="1186.4" r="14.2"/>
<circle cx="2016.3" cy="1189.0" r="14.2"/>
<circle cx="2016.3" cy="1191.6" r="14.2"/>
<circle cx="2016.3" cy="1194.2" r="14.2"/>
<circle cx="2016.3" cy="1196.8" r="14.2"/>
<circle cx="2016.3" cy="1199.4" r="14.2"/>
<circle cx="2016.3" cy="1202.0" r="14.2"/>
<circle cx="2016.3" cy="1204.6" r="14.2"/>
<circle cx="2016.3" cy="1207.2" r="14.2"/>
<circle cx="2016.3" cy="1207.7" r="14.2"/>
</g>
<rect x="1627.8" y="1402.5" width="777.0" height="248.3" fill="#fff" fill-opacity="0.65" stroke="#2b2b2b" stroke-width="5.2" stroke-linejoin="miter"/>
<line x1="1627.8" x2="2404.8" y1="1580.3" y2="1580.3" stroke="#2e2e2e" stroke-width="10.5"/>
</g>
<g>
<line x1="3126.6" x2="3126.6" y1="1404.2" y2="1192.5" stroke="#2c2626" stroke-width="5.2"/>
<line x1="3126.6" x2="3126.6" y1="1650.8" y2="1717.5" stroke="#2c2626" stroke-width="5.2"/>
<g fill="#000" fill-opacity="0.78" stroke="#000" stroke-opacity="0.78" stroke-width="2">
<circle cx="3126.6" cy="126.3" r="14.2"/>
<circle cx="3126.6" cy="135.5" r="14.2"/>
<circle cx="3126.6" cy="156.0" r="14.2"/>
<circle cx="3126.6" cy="214.8" r="14.2"/>
<circle cx="3126.6" cy="237.0" r="14.2"/>
<circle cx="3126.6" cy="243.0" r="14.2"/>
<circle cx="3126.6" cy="259.8" r="14.2"/>
<circle cx="3126.6" cy="307.5" r="14.2"/>
<circle cx="3126.6" cy="311.5" r="14.2"/>
<circle cx="3126.6" cy="316.0" r="14.2"/>
<circle cx="3126.6" cy="327.0" r="14.2"/>
<circle cx="3126.6" cy="331.5" r="14.2"/>
<circle cx="3126.6" cy="409.0" r="14.2"/>
<circle cx="3126.6" cy="411.6" r="14.2"/>
<circle cx="3126.6" cy="414.2" r="14.2"/>
<circle cx="3126.6" cy="416.8" r="14.2"/>
<circle cx="3126.6" cy="419.4" r="14.2"/>
<circle cx="3126.6" cy="422.0" r="14.2"/>
<circle cx="3126.6" cy="424.6" r="14.2"/>
<circle cx="3126.6" cy="427.2" r="14.2"/>
<circle cx="3126.6" cy="429.8" r="14.2"/>
<circle cx="3126.6" cy="432.4" r="14.2"/>
<circle cx="3126.6" cy="435.0" r="14.2"/>
<circle cx="3126.6" cy="437.6" r="14.2"/>
<circle cx="3126.6" cy="440.2" r="14.2"/>
<circle cx="3126.6" cy="442.8" r="14.2"/>
<circle cx="3126.6" cy="445.4" r="14.2"/>
<circle cx="3126.6" cy="448.0" r="14.2"/>
<circle cx="3126.6" cy="450.6" r="14.2"/>
<circle cx="3126.6" cy="453.2" r="14.2"/>
<circle cx="3126.6" cy="455.8" r="14.2"/>
<circle cx="3126.6" cy="458.4" r="14.2"/>
<circle cx="3126.6" cy="461.0" r="14.2"/>
<circle cx="3126.6" cy="463.6" r="14.2"/>
<circle cx="3126.6" cy="466.2" r="14.2"/>
<circle cx="3126.6" cy="468.8" r="14.2"/>
<circle cx="3126.6" cy="471.4" r="14.2"/>
<circle cx="3126.6" cy="474.0" r="14.2"/>
<circle cx="3126.6" cy="476.6" r="14.2"/>
<circle cx="3126.6" cy="479.2" r="14.2"/>
<circle cx="3126.6" cy="481.8" r="14.2"/>
<circle cx="3126.6" cy="484.4" r="14.2"/>
<circle cx="3126.6" cy="487.0" r="14.2"/>
<circle cx="3126.6" cy="489.6" r="14.2"/>
<circle cx="3126.6" cy="492.2" r="14.2"/>
<circle cx="3126.6" cy="494.8" r="14.2"/>
<circle cx="3126.6" cy="497.4" r="14.2"/>
<circle cx="3126.6" cy="500.0" r="14.2"/>
<circle cx="3126.6" cy="502.6" r="14.2"/>
<circle cx="3126.6" cy="505.2" r="14.2"/>
<circle cx="3126.6" cy="507.8" r="14.2"/>
<circle cx="3126.6" cy="510.4" r="14.2"/>
<circle cx="3126.6" cy="513.0" r="14.2"/>
<circle cx="3126.6" cy="515.6" r="14.2"/>
<circle cx="3126.6" cy="518.2" r="14.2"/>
<circle cx="3126.6" cy="520.8" r="14.2"/>
<circle cx="3126.6" cy="523.4" r="14.2"/>
<circle cx="3126.6" cy="526.0" r="14.2"/>
<circle cx="3126.6" cy="528.6" r="14.2"/>
<circle cx="3126.6" cy="531.2" r="14.2"/>
<circle cx="3126.6" cy="533.8" r="14.2"/>
<circle cx="3126.6" cy="536.4" r="14.2"/>
<circle cx="3126.6" cy="539.0" r="14.2"/>
<circle cx="3126.6" cy="541.6" r="14.2"/>
<circle cx="3126.6" cy="544.2" r="14.2"/>
<circle cx="3126.6" cy="546.8" r="14.2"/>
<circle cx="3126.6" cy="549.4" r="14.2"/>
<circle cx="3126.6" cy="552.0" r="14.2"/>
<circle cx="3126.6" cy="554.6" r="14.2"/>
<circle cx="3126.6" cy="557.2" r="14.2"/>
<circle cx="3126.6" cy="559.8" r="14.2"/>
<circle cx="3126.6" cy="562.4" r="14.2"/>
<circle cx="3126.6" cy="565.0" r="14.2"/>
<circle cx="3126.6" cy="567.6" r="14.2"/>
<circle cx="3126.6" cy="570.2" r="14.2"/>
<circle cx="3126.6" cy="572.8" r="14.2"/>
<circle cx="3126.6" cy="575.4" r="14.2"/>
<circle cx="3126.6" cy="578.0" r="14.2"/>
<circle cx="3126.6" cy="580.6" r="14.2"/>
<circle cx="3126.6" cy="583.2" r="14.2"/>
<circle cx="3126.6" cy="585.8" r="14.2"/>
<circle cx="3126.6" cy="588.4" r="14.2"/>
<circle cx="3126.6" cy="591.0" r="14.2"/>
<circle cx="3126.6" cy="593.6" r="14.2"/>
<circle cx="3126.6" cy="596.2" r="14.2"/>
<circle cx="3126.6" cy="598.8" r="14.2"/>
<circle cx="3126.6" cy="601.4" r="14.2"/>
<circle cx="3126.6" cy="604.0" r="14.2"/>
<circle cx="3126.6" cy="606.6" r="14.2"/>
<circle cx="3126.6" cy="609.2" r="14.2"/>
<circle cx="3126.6" cy="611.8" r="14.2"/>
<circle cx="3126.6" cy="614.4" r="14.2"/>
<circle cx="3126.6" cy="617.0" r="14.2"/>
<circle cx="3126.6" cy="619.6" r="14.2"/>
<circle cx="3126.6" cy="622.2" r="14.2"/>
<circle cx="3126.6" cy="624.8" r="14.2"/>
<circle cx="3126.6" cy="627.4" r="14.2"/>
<circle cx="3126.6" cy="630.0" r="14.2"/>
<circle cx="3126.6" cy="632.6" r="14.2"/>
<circle cx="3126.6" cy="635.2" r="14.2"/>
<circle cx="3126.6" cy="637.8" r="14.2"/>
<circle cx="3126.6" cy="640.4" r="14.2"/>
<circle cx="3126.6" cy="643.0" r="14.2"/>
<circle cx="3126.6" cy="645.6" r="14.2"/>
<circle cx="3126.6" cy="648.2" r="14.2"/>
<circle cx="3126.6" cy="650.8" r="14.2"/>
<circle cx="3126.6" cy="653.4" r="14.2"/>
<circle cx="3126.6" cy="656.0" r="14.2"/>
<circle cx="3126.6" cy="658.6" r="14.2"/>
<circle cx="3126.6" cy="661.2" r="14.2"/>
<circle cx="3126.6" cy="663.8" r="14.2"/>
<circle cx="3126.6" cy="666.4" r="14.2"/>
<circle cx="3126.6" cy="669.0" r="14.2"/>
<circle cx="3126.6" cy="671.6" r="14.2"/>
<circle cx="3126.6" cy="674.2" r="14.2"/>
<circle cx="3126.6" cy="676.8" r="14.2"/>
<circle cx="3126.6" cy="679.4" r="14.2"/>
<circle cx="3126.6" cy="682.0" r="14.2"/>
<circle cx="3126.6" cy="684.6" r="14.2"/>
<circle cx="3126.6" cy="687.2" r="14.2"/>
<circle cx="3126.6" cy="689.8" r="14.2"/>
<circle cx="3126.6" cy="692.4" r="14.2"/>
<circle cx="3126.6" cy="695.0" r="14.2"/>
<circle cx="3126.6" cy="697.6" r="14.2"/>
<circle cx="3126.6" cy="700.2" r="14.2"/>
<circle cx="3126.6" cy="702.8" r="14.2"/>
<circle cx="3126.6" cy="705.4" r="14.2"/>
<circle cx="3126.6" cy="708.0" r="14.2"/>
<circle cx="3126.6" cy="710.6" r="14.2"/>
<circle cx="3126.6" cy="713.2" r="14.2"/>
<circle cx="3126.6" cy="715.8" r="14.2"/>
<circle cx="3126.6" cy="718.4" r="14.2"/>
<circle cx="3126.6" cy="721.0" r="14.2"/>
<circle cx="3126.6" cy="723.6" r="14.2"/>
<circle cx="3126.6" cy="726.2" r="14.2"/>
<circle cx="3126.6" cy="728.8" r="14.2"/>
<circle cx="3126.6" cy="731.4" r="14.2"/>
<circle cx="3126.6" cy="734.0" r="14.2"/>
<circle cx="3126.6" cy="736.6" r="14.2"/>
<circle cx="3126.6" cy="739.2" r="14.2"/>
<circle cx="3126.6" cy="741.8" r="14.2"/>
<circle cx="3126.6" cy="744.4" r="14.2"/>
<circle cx="3126.6" cy="747.0" r="14.2"/>
<circle cx="3126.6" cy="749.6" r="14.2"/>
<circle cx="3126.6" cy="752.2" r="14.2"/>
<circle cx="3126.6" cy="754.8" r="14.2"/>
<circle cx="3126.6" cy="757.4" r="14.2"/>
<circle cx="3126.6" cy="760.0" r="14.2"/>
<circle cx="3126.6" cy="762.6" r="14.2"/>
<circle cx="3126.6" cy="765.2" r="14.2"/>
<circle cx="3126.6" cy="767.8" r="14.2"/>
<circle cx="3126.6" cy="770.4" r="14.2"/>
<circle cx="3126.6" cy="773.0" r="14.2"/>
<circle cx="3126.6" cy="775.6" r="14.2"/>
<circle cx="3126.6" cy="778.2" r="14.2"/>
<circle cx="3126.6" cy="780.8" r="14.2"/>
<circle cx="3126.6" cy="783.4" r="14.2"/>
<circle cx="3126.6" cy="786.0" r="14.2"/>
<circle cx="3126.6" cy="788.6" r="14.2"/>
<circle cx="3126.6" cy="791.2" r="14.2"/>
<circle cx="3126.6" cy="793.8" r="14.2"/>
<circle cx="3126.6" cy="796.4" r="14.2"/>
<circle cx="3126.6" cy="799.0" r="14.2"/>
<circle cx="3126.6" cy="801.6" r="14.2"/>
<circle cx="3126.6" cy="804.2" r="14.2"/>
<circle cx="3126.6" cy="806.8" r="14.2"/>
<circle cx="3126.6" cy="809.4" r="14.2"/>
<circle cx="3126.6" cy="812.0" r="14.2"/>
<circle cx="3126.6" cy="814.6" r="14.2"/>
<circle cx="3126.6" cy="817.2" r="14.2"/>
<circle cx="3126.6" cy="819.8" r="14.2"/>
<circle cx="3126.6" cy="822.4" r="14.2"/>
<circle cx="3126.6" cy="825.0" r="14.2"/>
<circle cx="3126.6" cy="827.6" r="14.2"/>
<circle cx="3126.6" cy="830.2" r="14.2"/>
<circle cx="3126.6" cy="832.8" r="14.2"/>
<circle cx="3126.6" cy="835.4" r="14.2"/>
<circle cx="3126.6" cy="838.0" r="14.2"/>
<circle cx="3126.6" cy="840.6" r="14.2"/>
<circle cx="3126.6" cy="843.2" r="14.2"/>
<circle cx="3126.6" cy="845.8" r="14.2"/>
<circle cx="3126.6" cy="848.4" r="14.2"/>
<circle cx="3126.6" cy="851.0" r="14.2"/>
<circle cx="3126.6" cy="853.6" r="14.2"/>
<circle cx="3126.6" cy="856.2" r="14.2"/>
<circle cx="3126.6" cy="858.8" r="14.2"/>
<circle cx="3126.6" cy="861.4" r="14.2"/>
<circle cx="3126.6" cy="864.0" r="14.2"/>
<circle cx="3126.6" cy="866.6" r="14.2"/>
<circle cx="3126.6" cy="869.2" r="14.2"/>
<circle cx="3126.6" cy="871.8" r="14.2"/>
<circle cx="3126.6" cy="874.4" r="14.2"/>
<circle cx="3126.6" cy="877.0" r="14.2"/>
<circle cx="3126.6" cy="879.6" r="14.2"/>
<circle cx="3126.6" cy="882.2" r="14.2"/>
<circle cx="3126.6" cy="884.8" r="14.2"/>
<circle cx="3126.6" cy="887.4" r="14.2"/>
<circle cx="3126.6" cy="890.0" r="14.2"/>
<circle cx="3126.6" cy="892.6" r="14.2"/>
<circle cx="3126.6" cy="895.2" r="14.2"/>
<circle cx="3126.6" cy="897.8" r="14.2"/>
<circle cx="3126.6" cy="900.4" r="14.2"/>
<circle cx="3126.6" cy="903.0" r="14.2"/>
<circle cx="3126.6" cy="905.6" r="14.2"/>
<circle cx="3126.6" cy="908.2" r="14.2"/>
<circle cx="3126.6" cy="910.8" r="14.2"/>
<circle cx="3126.6" cy="913.4" r="14.2"/>
<circle cx="3126.6" cy="916.0" r="14.2"/>
<circle cx="3126.6" cy="918.6" r="14.2"/>
<circle cx="3126.6" cy="921.2" r="14.2"/>
<circle cx="3126.6" cy="923.8" r="14.2"/>
<circle cx="3126.6" cy="926.4" r="14.2"/>
<circle cx="3126.6" cy="929.0" r="14.2"/>
<circle cx="3126.6" cy="931.6" r="14.2"/>
<circle cx="3126.6" cy="934.2" r="14.2"/>
<circle cx="3126.6" cy="936.8" r="14.2"/>
<circle cx="3126.6" cy="939.4" r="14.2"/>
<circle cx="3126.6" cy="942.0" r="14.2"/>
<circle cx="3126.6" cy="944.6" r="14.2"/>
<circle cx="3126.6" cy="947.2" r="14.2"/>
<circle cx="3126.6" cy="949.8" r="14.2"/>
<circle cx="3126.6" cy="952.4" r="14.2"/>
<circle cx="3126.6" cy="955.0" r="14.2"/>
<circle cx="3126.6" cy="957.6" r="14.2"/>
<circle cx="3126.6" cy="960.2" r="14.2"/>
<circle cx="3126.6" cy="962.8" r="14.2"/>
<circle cx="3126.6" cy="965.4" r="14.2"/>
<circle cx="3126.6" cy="968.0" r="14.2"/>
<circle cx="3126.6" cy="970.6" r="14.2"/>
<circle cx="3126.6" cy="973.2" r="14.2"/>
<circle cx="3126.6" cy="975.8" r="14.2"/>
<circle cx="3126.6" cy="978.4" r="14.2"/>
<circle cx="3126.6" cy="981.0" r="14.2"/>
<circle cx="3126.6" cy="983.6" r="14.2"/>
<circle cx="3126.6" cy="986.2" r="14.2"/>
<circle cx="3126.6" cy="988.8" r="14.2"/>
<circle cx="3126.6" cy="991.4" r="14.2"/>
<circle cx="3126.6" cy="994.0" r="14.2"/>
<circle cx="3126.6" cy="996.6" r="14.2"/>
<circle cx="3126.6" cy="999.2" r="14.2"/>
<circle cx="3126.6" cy="1001.8" r="14.2"/>
<circle cx="3126.6" cy="1004.4" r="14.2"/>
<circle cx="3126.6" cy="1007.0" r="14.2"/>
<circle cx="3126.6" cy="1009.6" r="14.2"/>
<circle cx="3126.6" cy="1012.2" r="14.2"/>
<circle cx="3126.6" cy="1014.8" r="14.2"/>
<circle cx="3126.6" cy="1017.4" r="14.2"/>
<circle cx="3126.6" cy="1020.0" r="14.2"/>
<circle cx="3126.6" cy="1022.6" r="14.2"/>
<circle cx="3126.6" cy="1025.2" r="14.2"/>
<circle cx="3126.6" cy="1027.8" r="14.2"/>
<circle cx="3126.6" cy="1030.4" r="14.2"/>
<circle cx="3126.6" cy="1033.0" r="14.2"/>
<circle cx="3126.6" cy="1035.6" r="14.2"/>
<circle cx="3126.6" cy="1038.2" r="14.2"/>
<circle cx="3126.6" cy="1040.8" r="14.2"/>
<circle cx="3126.6" cy="1043.4" r="14.2"/>
<circle cx="3126.6" cy="1046.0" r="14.2"/>
<circle cx="3126.6" cy="1048.6" r="14.2"/>
<circle cx="3126.6" cy="1051.2" r="14.2"/>
<circle cx="3126.6" cy="1053.8" r="14.2"/>
<circle cx="3126.6" cy="1056.4" r="14.2"/>
<circle cx="3126.6" cy="1059.0" r="14.2"/>
<circle cx="3126.6" cy="1061.6" r="14.2"/>
<circle cx="3126.6" cy="1064.2" r="14.2"/>
<circle cx="3126.6" cy="1066.8" r="14.2"/>
<circle cx="3126.6" cy="1069.4" r="14.2"/>
<circle cx="3126.6" cy="1072.0" r="14.2"/>
<circle cx="3126.6" cy="1074.6" r="14.2"/>
<circle cx="3126.6" cy="1077.2" r="14.2"/>
<circle cx="3126.6" cy="1079.8" r="14.2"/>
<circle cx="3126.6" cy="1082.4" r="14.2"/>
<circle cx="3126.6" cy="1085.0" r="14.2"/>
<circle cx="3126.6" cy="1087.6" r="14.2"/>
<circle cx="3126.6" cy="1090.2" r="14.2"/>
<circle cx="3126.6" cy="1092.8" r="14.2"/>
<circle cx="3126.6" cy="1095.4" r="14.2"/>
<circle cx="3126.6" cy="1098.0" r="14.2"/>
<circle cx="3126.6" cy="1100.6" r="14.2"/>
<circle cx="3126.6" cy="1103.2" r="14.2"/>
<circle cx="3126.6" cy="1105.8" r="14.2"/>
<circle cx="3126.6" cy="1108.4" r="14.2"/>
<circle cx="3126.6" cy="1111.0" r="14.2"/>
<circle cx="3126.6" cy="1113.6" r="14.2"/>
<circle cx="3126.6" cy="1116.2" r="14.2"/>
<circle cx="3126.6" cy="1118.8" r="14.2"/>
<circle cx="3126.6" cy="1121.4" r="14.2"/>
<circle cx="3126.6" cy="1124.0" r="14.2"/>
<circle cx="3126.6" cy="1126.6" r="14.2"/>
<circle cx="3126.6" cy="1129.2" r="14.2"/>
<circle cx="3126.6" cy="1131.8" r="14.2"/>
<circle cx="3126.6" cy="1134.4" r="14.2"/>
<circle cx="3126.6" cy="1137.0" r="14.2"/>
<circle cx="3126.6" cy="1139.6" r="14.2"/>
<circle cx="3126.6" cy="1142.2" r="14.2"/>
<circle cx="3126.6" cy="1144.8" r="14.2"/>
<circle cx="3126.6" cy="1147.4" r="14.2"/>
<circle cx="3126.6" cy="1150.0" r="14.2"/>
<circle cx="3126.6" cy="1152.6" r="14.2"/>
<circle cx="3126.6" cy="1155.2" r="14.2"/>
<circle cx="3126.6" cy="1157.8" r="14.2"/>
<circle cx="3126.6" cy="1160.4" r="14.2"/>
<circle cx="3126.6" cy="1163.0" r="14.2"/>
<circle cx="3126.6" cy="1165.6" r="14.2"/>
<circle cx="3126.6" cy="1168.2" r="14.2"/>
<circle cx="3126.6" cy="1170.8" r="14.2"/>
<circle cx="3126.6" cy="1173.4" r="14.2"/>
<circle cx="3126.6" cy="1176.0" r="14.2"/>
<circle cx="3126.6" cy="1178.6" r="14.2"/>
<circle cx="3126.6" cy="1181.2" r="14.2"/>
<circle cx="3126.6" cy="1183.8" r="14.2"/>
<circle cx="3126.6" cy="1186.4" r="14.2"/>
<circle cx="3126.6" cy="1189.0" r="14.2"/>
<circle cx="3126.6" cy="1191.6" r="14.2"/>
<circle cx="3126.6" cy="1194.2" r="14.2"/>
<circle cx="3126.6" cy="1196.8" r="14.2"/>
<circle cx="3126.6" cy="1199.4" r="14.2"/>
<circle cx="3126.6" cy="1202.0" r="14.2"/>
<circle cx="3126.6" cy="1204.6" r="14.2"/>
<circle cx="3126.6" cy="1207.2" r="14.2"/>
<circle cx="3126.6" cy="1207.7" r="14.2"/>
</g>
<rect x="2738.1" y="1404.2" width="777.0" height="246.6" fill="#fff" fill-opacity="0.65" stroke="#2b2b2b" stroke-width="5.2" stroke-linejoin="miter"/>
<line x1="2738.1" x2="3515.1" y1="1580.3" y2="1580.3" stroke="#2e2e2e" stroke-width="10.5"/>
</g>
<rect x="241.2" y="45.6" width="3549.6000000000004" height="1750.3000000000002" fill="none" stroke="#000" stroke-width="3.7"/>
<g stroke="#262626" stroke-width="5.8">
<line x1="222" x2="241.2" y1="1718.0" y2="1718.0"/>
<line x1="222" x2="241.2" y1="1484.6" y2="1484.6"/>
<line x1="222" x2="241.2" y1="1348.1" y2="1348.1"/>
<line x1="222" x2="241.2" y1="1176.1" y2="1176.1"/>
<line x1="222" x2="241.2" y1="978.1" y2="978.1"/>
<line x1="222" x2="241.2" y1="764.0" y2="764.0"/>
<line x1="222" x2="241.2" y1="540.6" y2="540.6"/>
<line x1="222" x2="241.2" y1="312.4" y2="312.4"/>
<line x1="222" x2="241.2" y1="81.6" y2="81.6"/>
<line x1="906.0" x2="906.0" y1="1795.9" y2="1814.5"/>
<line x1="2016.3" x2="2016.3" y1="1795.9" y2="1814.5"/>
<line x1="3126.6" x2="3126.6" y1="1795.9" y2="1814.5"/>
</g>
<text class="yt" transform="translate(206 1731.8) scale(0.97 1)">0</text>
<text class="yt" transform="translate(206 1498.4) scale(0.97 1)">1</text>
<text class="yt" transform="translate(206 1361.9) scale(0.97 1)">2</text>
<text class="yt" transform="translate(206 1189.9) scale(0.97 1)">4</text>
<text class="yt" transform="translate(206 991.9) scale(0.97 1)">8</text>
<text class="yt" transform="translate(206 777.8) scale(0.97 1)">16</text>
<text class="yt" transform="translate(206 554.4) scale(0.97 1)">32</text>
<text class="yt" transform="translate(206 326.2) scale(0.97 1)">64</text>
<text class="yt" transform="translate(206 95.4) scale(0.97 1)">128</text>
<text class="xt" transform="translate(906.0 1857.8) scale(1.02 1)">Linear Regression</text>
<text class="xt" transform="translate(2016.3 1857.8) scale(1.02 1)">Random Forest Regressor</text>
<text class="xt" transform="translate(3126.6 1857.8) scale(1.02 1)">LightGBM</text>
<text class="ttl" transform="translate(111 922.3) rotate(-90)">Absolute Error (minutes)</text>
</svg></body></html>
